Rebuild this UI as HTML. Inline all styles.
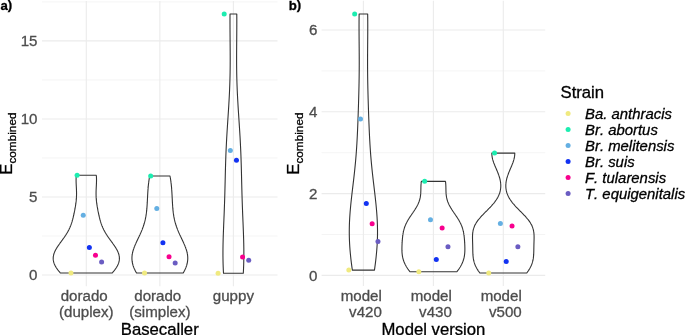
<!DOCTYPE html>
<html><head><meta charset="utf-8"><style>
html,body{margin:0;padding:0;background:#fff;}
svg{display:block;}
text{font-family:"Liberation Sans",sans-serif;font-kerning:none;}
svg{will-change:transform;}
</style></head><body>
<svg width="685" height="335" viewBox="0 0 685 335">
<rect width="685" height="335" fill="#fff"/>
<line x1="42.0" x2="277.5" y1="235.98" y2="235.98" stroke="#EBEBEB" stroke-width="0.55"/>
<line x1="42.0" x2="277.5" y1="157.95" y2="157.95" stroke="#EBEBEB" stroke-width="0.55"/>
<line x1="42.0" x2="277.5" y1="79.91" y2="79.91" stroke="#EBEBEB" stroke-width="0.55"/>
<line x1="42.0" x2="277.5" y1="1.88" y2="1.88" stroke="#EBEBEB" stroke-width="0.55"/>
<line x1="42.0" x2="277.5" y1="275.00" y2="275.00" stroke="#EBEBEB" stroke-width="1.1"/>
<line x1="42.0" x2="277.5" y1="196.97" y2="196.97" stroke="#EBEBEB" stroke-width="1.1"/>
<line x1="42.0" x2="277.5" y1="118.93" y2="118.93" stroke="#EBEBEB" stroke-width="1.1"/>
<line x1="42.0" x2="277.5" y1="40.90" y2="40.90" stroke="#EBEBEB" stroke-width="1.1"/>
<line x1="86.3" x2="86.3" y1="1.09" y2="286.24" stroke="#EBEBEB" stroke-width="1.1"/>
<line x1="159.85" x2="159.85" y1="1.09" y2="286.24" stroke="#EBEBEB" stroke-width="1.1"/>
<line x1="233.4" x2="233.4" y1="1.09" y2="286.24" stroke="#EBEBEB" stroke-width="1.1"/>
<path d="M60.38,272.97 L60.22,272.78 L60.05,272.59 L59.88,272.40 L59.72,272.21 L59.56,272.02 L59.40,271.82 L59.24,271.63 L59.08,271.44 L58.92,271.25 L58.77,271.06 L58.61,270.87 L58.46,270.68 L58.31,270.49 L58.16,270.29 L58.01,270.10 L57.87,269.91 L57.72,269.72 L57.58,269.53 L57.44,269.34 L57.30,269.15 L57.16,268.96 L57.03,268.76 L56.90,268.57 L56.76,268.38 L56.64,268.19 L56.51,268.00 L56.38,267.81 L56.26,267.62 L56.14,267.43 L56.02,267.24 L55.90,267.04 L55.79,266.85 L55.68,266.66 L55.57,266.47 L55.46,266.28 L55.35,266.09 L55.25,265.90 L55.15,265.71 L55.05,265.51 L54.96,265.32 L54.86,265.13 L54.77,264.94 L54.68,264.75 L54.60,264.56 L54.51,264.37 L54.43,264.18 L54.35,263.99 L54.28,263.79 L54.20,263.60 L54.13,263.41 L54.06,263.22 L54.00,263.03 L53.93,262.84 L53.87,262.65 L53.81,262.46 L53.76,262.26 L53.70,262.07 L53.65,261.88 L53.61,261.69 L53.56,261.50 L53.52,261.31 L53.48,261.12 L53.44,260.93 L53.41,260.73 L53.37,260.54 L53.35,260.35 L53.32,260.16 L53.29,259.97 L53.27,259.78 L53.26,259.59 L53.24,259.40 L53.23,259.21 L53.22,259.01 L53.21,258.82 L53.20,258.63 L53.20,258.44 L53.20,258.25 L53.21,258.06 L53.21,257.87 L53.22,257.68 L53.23,257.48 L53.25,257.29 L53.26,257.10 L53.28,256.91 L53.30,256.72 L53.33,256.53 L53.35,256.34 L53.38,256.15 L53.42,255.95 L53.45,255.76 L53.49,255.57 L53.53,255.38 L53.57,255.19 L53.61,255.00 L53.66,254.81 L53.71,254.62 L53.76,254.43 L53.81,254.23 L53.87,254.04 L53.93,253.85 L53.99,253.66 L54.05,253.47 L54.12,253.28 L54.19,253.09 L54.26,252.90 L54.33,252.70 L54.41,252.51 L54.48,252.32 L54.56,252.13 L54.64,251.94 L54.72,251.75 L54.81,251.56 L54.90,251.37 L54.98,251.18 L55.08,250.98 L55.17,250.79 L55.26,250.60 L55.36,250.41 L55.46,250.22 L55.56,250.03 L55.66,249.84 L55.76,249.65 L55.87,249.45 L55.97,249.26 L56.08,249.07 L56.19,248.88 L56.30,248.69 L56.42,248.50 L56.53,248.31 L56.64,248.12 L56.76,247.92 L56.88,247.73 L57.00,247.54 L57.12,247.35 L57.24,247.16 L57.37,246.97 L57.49,246.78 L57.61,246.59 L57.74,246.40 L57.87,246.20 L58.00,246.01 L58.13,245.82 L58.26,245.63 L58.39,245.44 L58.52,245.25 L58.65,245.06 L58.79,244.87 L58.92,244.67 L59.05,244.48 L59.19,244.29 L59.33,244.10 L59.46,243.91 L59.60,243.72 L59.74,243.53 L59.87,243.34 L60.01,243.14 L60.15,242.95 L60.29,242.76 L60.43,242.57 L60.57,242.38 L60.71,242.19 L60.85,242.00 L60.99,241.81 L61.13,241.62 L61.27,241.42 L61.41,241.23 L61.55,241.04 L61.69,240.85 L61.83,240.66 L61.97,240.47 L62.11,240.28 L62.25,240.09 L62.39,239.89 L62.53,239.70 L62.67,239.51 L62.80,239.32 L62.94,239.13 L63.08,238.94 L63.22,238.75 L63.35,238.56 L63.49,238.37 L63.63,238.17 L63.76,237.98 L63.90,237.79 L64.03,237.60 L64.17,237.41 L64.30,237.22 L64.43,237.03 L64.56,236.84 L64.69,236.64 L64.82,236.45 L64.95,236.26 L65.08,236.07 L65.21,235.88 L65.34,235.69 L65.47,235.50 L65.59,235.31 L65.72,235.11 L65.84,234.92 L65.96,234.73 L66.09,234.54 L66.21,234.35 L66.33,234.16 L66.45,233.97 L66.57,233.78 L66.68,233.59 L66.80,233.39 L66.92,233.20 L67.03,233.01 L67.15,232.82 L67.26,232.63 L67.37,232.44 L67.48,232.25 L67.59,232.06 L67.70,231.86 L67.81,231.67 L67.91,231.48 L68.02,231.29 L68.12,231.10 L68.23,230.91 L68.33,230.72 L68.43,230.53 L68.53,230.33 L68.63,230.14 L68.73,229.95 L68.82,229.76 L68.92,229.57 L69.01,229.38 L69.11,229.19 L69.20,229.00 L69.29,228.81 L69.38,228.61 L69.47,228.42 L69.56,228.23 L69.65,228.04 L69.73,227.85 L69.82,227.66 L69.90,227.47 L69.99,227.28 L70.07,227.08 L70.15,226.89 L70.23,226.70 L70.31,226.51 L70.39,226.32 L70.46,226.13 L70.54,225.94 L70.62,225.75 L70.69,225.56 L70.76,225.36 L70.84,225.17 L70.91,224.98 L70.98,224.79 L71.05,224.60 L71.12,224.41 L71.19,224.22 L71.25,224.03 L71.32,223.83 L71.39,223.64 L71.45,223.45 L71.52,223.26 L71.58,223.07 L71.64,222.88 L71.70,222.69 L71.77,222.50 L71.83,222.30 L71.89,222.11 L71.95,221.92 L72.00,221.73 L72.06,221.54 L72.12,221.35 L72.18,221.16 L72.23,220.97 L72.29,220.78 L72.34,220.58 L72.40,220.39 L72.45,220.20 L72.50,220.01 L72.55,219.82 L72.61,219.63 L72.66,219.44 L72.71,219.25 L72.76,219.05 L72.81,218.86 L72.86,218.67 L72.91,218.48 L72.96,218.29 L73.00,218.10 L73.05,217.91 L73.10,217.72 L73.15,217.53 L73.19,217.33 L73.24,217.14 L73.28,216.95 L73.33,216.76 L73.37,216.57 L73.42,216.38 L73.46,216.19 L73.51,216.00 L73.55,215.80 L73.60,215.61 L73.64,215.42 L73.68,215.23 L73.72,215.04 L73.77,214.85 L73.81,214.66 L73.85,214.47 L73.89,214.27 L73.93,214.08 L73.97,213.89 L74.01,213.70 L74.06,213.51 L74.10,213.32 L74.14,213.13 L74.18,212.94 L74.22,212.75 L74.25,212.55 L74.29,212.36 L74.33,212.17 L74.37,211.98 L74.41,211.79 L74.45,211.60 L74.49,211.41 L74.52,211.22 L74.56,211.02 L74.60,210.83 L74.64,210.64 L74.67,210.45 L74.71,210.26 L74.75,210.07 L74.78,209.88 L74.82,209.69 L74.86,209.49 L74.89,209.30 L74.93,209.11 L74.96,208.92 L75.00,208.73 L75.03,208.54 L75.07,208.35 L75.10,208.16 L75.14,207.97 L75.17,207.77 L75.20,207.58 L75.24,207.39 L75.27,207.20 L75.30,207.01 L75.33,206.82 L75.37,206.63 L75.40,206.44 L75.43,206.24 L75.46,206.05 L75.49,205.86 L75.52,205.67 L75.55,205.48 L75.58,205.29 L75.61,205.10 L75.64,204.91 L75.67,204.72 L75.70,204.52 L75.73,204.33 L75.75,204.14 L75.78,203.95 L75.81,203.76 L75.83,203.57 L75.86,203.38 L75.89,203.19 L75.91,202.99 L75.94,202.80 L75.96,202.61 L75.98,202.42 L76.01,202.23 L76.03,202.04 L76.05,201.85 L76.08,201.66 L76.10,201.46 L76.12,201.27 L76.14,201.08 L76.16,200.89 L76.18,200.70 L76.20,200.51 L76.22,200.32 L76.24,200.13 L76.25,199.94 L76.27,199.74 L76.29,199.55 L76.30,199.36 L76.32,199.17 L76.33,198.98 L76.35,198.79 L76.36,198.60 L76.38,198.41 L76.39,198.21 L76.40,198.02 L76.41,197.83 L76.43,197.64 L76.44,197.45 L76.45,197.26 L76.46,197.07 L76.47,196.88 L76.47,196.68 L76.48,196.49 L76.49,196.30 L76.50,196.11 L76.50,195.92 L76.51,195.73 L76.51,195.54 L76.52,195.35 L76.52,195.16 L76.53,194.96 L76.53,194.77 L76.53,194.58 L76.54,194.39 L76.54,194.20 L76.54,194.01 L76.54,193.82 L76.54,193.63 L76.54,193.43 L76.54,193.24 L76.54,193.05 L76.54,192.86 L76.54,192.67 L76.53,192.48 L76.53,192.29 L76.53,192.10 L76.53,191.91 L76.52,191.71 L76.52,191.52 L76.51,191.33 L76.51,191.14 L76.50,190.95 L76.50,190.76 L76.49,190.57 L76.48,190.38 L76.48,190.18 L76.47,189.99 L76.46,189.80 L76.45,189.61 L76.45,189.42 L76.44,189.23 L76.43,189.04 L76.42,188.85 L76.41,188.65 L76.40,188.46 L76.40,188.27 L76.39,188.08 L76.38,187.89 L76.37,187.70 L76.36,187.51 L76.35,187.32 L76.34,187.13 L76.33,186.93 L76.32,186.74 L76.31,186.55 L76.30,186.36 L76.29,186.17 L76.28,185.98 L76.27,185.79 L76.26,185.60 L76.25,185.40 L76.24,185.21 L76.23,185.02 L76.22,184.83 L76.21,184.64 L76.21,184.45 L76.20,184.26 L76.19,184.07 L76.18,183.87 L76.17,183.68 L76.16,183.49 L76.16,183.30 L76.15,183.11 L76.14,182.92 L76.14,182.73 L76.13,182.54 L76.12,182.35 L76.12,182.15 L76.11,181.96 L76.11,181.77 L76.10,181.58 L76.10,181.39 L76.10,181.20 L76.09,181.01 L76.09,180.82 L76.09,180.62 L76.09,180.43 L76.09,180.24 L76.08,180.05 L76.08,179.86 L76.09,179.67 L76.09,179.48 L76.09,179.29 L76.09,179.10 L76.09,178.90 L76.10,178.71 L76.10,178.52 L76.11,178.33 L76.11,178.14 L76.12,177.95 L76.12,177.76 L76.13,177.57 L76.14,177.37 L76.15,177.18 L76.16,176.99 L76.17,176.80 L76.18,176.61 L76.19,176.42 L76.20,176.23 L76.22,176.04 L76.23,175.84 L76.25,175.65 L76.26,175.46 L76.28,175.27 L96.32,175.27 L96.34,175.46 L96.35,175.65 L96.37,175.84 L96.38,176.04 L96.40,176.23 L96.41,176.42 L96.42,176.61 L96.43,176.80 L96.44,176.99 L96.45,177.18 L96.46,177.37 L96.47,177.57 L96.48,177.76 L96.48,177.95 L96.49,178.14 L96.49,178.33 L96.50,178.52 L96.50,178.71 L96.51,178.90 L96.51,179.10 L96.51,179.29 L96.51,179.48 L96.51,179.67 L96.52,179.86 L96.52,180.05 L96.51,180.24 L96.51,180.43 L96.51,180.62 L96.51,180.82 L96.51,181.01 L96.50,181.20 L96.50,181.39 L96.50,181.58 L96.49,181.77 L96.49,181.96 L96.48,182.15 L96.48,182.35 L96.47,182.54 L96.46,182.73 L96.46,182.92 L96.45,183.11 L96.44,183.30 L96.44,183.49 L96.43,183.68 L96.42,183.87 L96.41,184.07 L96.40,184.26 L96.39,184.45 L96.39,184.64 L96.38,184.83 L96.37,185.02 L96.36,185.21 L96.35,185.40 L96.34,185.60 L96.33,185.79 L96.32,185.98 L96.31,186.17 L96.30,186.36 L96.29,186.55 L96.28,186.74 L96.27,186.93 L96.26,187.13 L96.25,187.32 L96.24,187.51 L96.23,187.70 L96.22,187.89 L96.21,188.08 L96.20,188.27 L96.20,188.46 L96.19,188.65 L96.18,188.85 L96.17,189.04 L96.16,189.23 L96.15,189.42 L96.15,189.61 L96.14,189.80 L96.13,189.99 L96.12,190.18 L96.12,190.38 L96.11,190.57 L96.10,190.76 L96.10,190.95 L96.09,191.14 L96.09,191.33 L96.08,191.52 L96.08,191.71 L96.07,191.91 L96.07,192.10 L96.07,192.29 L96.07,192.48 L96.06,192.67 L96.06,192.86 L96.06,193.05 L96.06,193.24 L96.06,193.43 L96.06,193.63 L96.06,193.82 L96.06,194.01 L96.06,194.20 L96.06,194.39 L96.07,194.58 L96.07,194.77 L96.07,194.96 L96.08,195.16 L96.08,195.35 L96.09,195.54 L96.09,195.73 L96.10,195.92 L96.10,196.11 L96.11,196.30 L96.12,196.49 L96.13,196.68 L96.13,196.88 L96.14,197.07 L96.15,197.26 L96.16,197.45 L96.17,197.64 L96.19,197.83 L96.20,198.02 L96.21,198.21 L96.22,198.41 L96.24,198.60 L96.25,198.79 L96.27,198.98 L96.28,199.17 L96.30,199.36 L96.31,199.55 L96.33,199.74 L96.35,199.94 L96.36,200.13 L96.38,200.32 L96.40,200.51 L96.42,200.70 L96.44,200.89 L96.46,201.08 L96.48,201.27 L96.50,201.46 L96.52,201.66 L96.55,201.85 L96.57,202.04 L96.59,202.23 L96.62,202.42 L96.64,202.61 L96.66,202.80 L96.69,202.99 L96.71,203.19 L96.74,203.38 L96.77,203.57 L96.79,203.76 L96.82,203.95 L96.85,204.14 L96.87,204.33 L96.90,204.52 L96.93,204.72 L96.96,204.91 L96.99,205.10 L97.02,205.29 L97.05,205.48 L97.08,205.67 L97.11,205.86 L97.14,206.05 L97.17,206.24 L97.20,206.44 L97.23,206.63 L97.27,206.82 L97.30,207.01 L97.33,207.20 L97.36,207.39 L97.40,207.58 L97.43,207.77 L97.46,207.97 L97.50,208.16 L97.53,208.35 L97.57,208.54 L97.60,208.73 L97.64,208.92 L97.67,209.11 L97.71,209.30 L97.74,209.49 L97.78,209.69 L97.82,209.88 L97.85,210.07 L97.89,210.26 L97.93,210.45 L97.96,210.64 L98.00,210.83 L98.04,211.02 L98.08,211.22 L98.11,211.41 L98.15,211.60 L98.19,211.79 L98.23,211.98 L98.27,212.17 L98.31,212.36 L98.35,212.55 L98.38,212.75 L98.42,212.94 L98.46,213.13 L98.50,213.32 L98.54,213.51 L98.59,213.70 L98.63,213.89 L98.67,214.08 L98.71,214.27 L98.75,214.47 L98.79,214.66 L98.83,214.85 L98.88,215.04 L98.92,215.23 L98.96,215.42 L99.00,215.61 L99.05,215.80 L99.09,216.00 L99.14,216.19 L99.18,216.38 L99.23,216.57 L99.27,216.76 L99.32,216.95 L99.36,217.14 L99.41,217.33 L99.45,217.53 L99.50,217.72 L99.55,217.91 L99.60,218.10 L99.64,218.29 L99.69,218.48 L99.74,218.67 L99.79,218.86 L99.84,219.05 L99.89,219.25 L99.94,219.44 L99.99,219.63 L100.05,219.82 L100.10,220.01 L100.15,220.20 L100.20,220.39 L100.26,220.58 L100.31,220.78 L100.37,220.97 L100.42,221.16 L100.48,221.35 L100.54,221.54 L100.60,221.73 L100.65,221.92 L100.71,222.11 L100.77,222.30 L100.83,222.50 L100.90,222.69 L100.96,222.88 L101.02,223.07 L101.08,223.26 L101.15,223.45 L101.21,223.64 L101.28,223.83 L101.35,224.03 L101.41,224.22 L101.48,224.41 L101.55,224.60 L101.62,224.79 L101.69,224.98 L101.76,225.17 L101.84,225.36 L101.91,225.56 L101.98,225.75 L102.06,225.94 L102.14,226.13 L102.21,226.32 L102.29,226.51 L102.37,226.70 L102.45,226.89 L102.53,227.08 L102.61,227.28 L102.70,227.47 L102.78,227.66 L102.87,227.85 L102.95,228.04 L103.04,228.23 L103.13,228.42 L103.22,228.61 L103.31,228.81 L103.40,229.00 L103.49,229.19 L103.59,229.38 L103.68,229.57 L103.78,229.76 L103.87,229.95 L103.97,230.14 L104.07,230.33 L104.17,230.53 L104.27,230.72 L104.37,230.91 L104.48,231.10 L104.58,231.29 L104.69,231.48 L104.79,231.67 L104.90,231.86 L105.01,232.06 L105.12,232.25 L105.23,232.44 L105.34,232.63 L105.45,232.82 L105.57,233.01 L105.68,233.20 L105.80,233.39 L105.92,233.59 L106.03,233.78 L106.15,233.97 L106.27,234.16 L106.39,234.35 L106.51,234.54 L106.64,234.73 L106.76,234.92 L106.88,235.11 L107.01,235.31 L107.13,235.50 L107.26,235.69 L107.39,235.88 L107.52,236.07 L107.65,236.26 L107.78,236.45 L107.91,236.64 L108.04,236.84 L108.17,237.03 L108.30,237.22 L108.43,237.41 L108.57,237.60 L108.70,237.79 L108.84,237.98 L108.97,238.17 L109.11,238.37 L109.25,238.56 L109.38,238.75 L109.52,238.94 L109.66,239.13 L109.80,239.32 L109.93,239.51 L110.07,239.70 L110.21,239.89 L110.35,240.09 L110.49,240.28 L110.63,240.47 L110.77,240.66 L110.91,240.85 L111.05,241.04 L111.19,241.23 L111.33,241.42 L111.47,241.62 L111.61,241.81 L111.75,242.00 L111.89,242.19 L112.03,242.38 L112.17,242.57 L112.31,242.76 L112.45,242.95 L112.59,243.14 L112.73,243.34 L112.86,243.53 L113.00,243.72 L113.14,243.91 L113.27,244.10 L113.41,244.29 L113.55,244.48 L113.68,244.67 L113.81,244.87 L113.95,245.06 L114.08,245.25 L114.21,245.44 L114.34,245.63 L114.47,245.82 L114.60,246.01 L114.73,246.20 L114.86,246.40 L114.99,246.59 L115.11,246.78 L115.23,246.97 L115.36,247.16 L115.48,247.35 L115.60,247.54 L115.72,247.73 L115.84,247.92 L115.96,248.12 L116.07,248.31 L116.18,248.50 L116.30,248.69 L116.41,248.88 L116.52,249.07 L116.63,249.26 L116.73,249.45 L116.84,249.65 L116.94,249.84 L117.04,250.03 L117.14,250.22 L117.24,250.41 L117.34,250.60 L117.43,250.79 L117.52,250.98 L117.62,251.18 L117.70,251.37 L117.79,251.56 L117.88,251.75 L117.96,251.94 L118.04,252.13 L118.12,252.32 L118.19,252.51 L118.27,252.70 L118.34,252.90 L118.41,253.09 L118.48,253.28 L118.55,253.47 L118.61,253.66 L118.67,253.85 L118.73,254.04 L118.79,254.23 L118.84,254.43 L118.89,254.62 L118.94,254.81 L118.99,255.00 L119.03,255.19 L119.07,255.38 L119.11,255.57 L119.15,255.76 L119.18,255.95 L119.22,256.15 L119.25,256.34 L119.27,256.53 L119.30,256.72 L119.32,256.91 L119.34,257.10 L119.35,257.29 L119.37,257.48 L119.38,257.68 L119.39,257.87 L119.39,258.06 L119.40,258.25 L119.40,258.44 L119.40,258.63 L119.39,258.82 L119.38,259.01 L119.37,259.21 L119.36,259.40 L119.34,259.59 L119.33,259.78 L119.31,259.97 L119.28,260.16 L119.25,260.35 L119.23,260.54 L119.19,260.73 L119.16,260.93 L119.12,261.12 L119.08,261.31 L119.04,261.50 L118.99,261.69 L118.95,261.88 L118.90,262.07 L118.84,262.26 L118.79,262.46 L118.73,262.65 L118.67,262.84 L118.60,263.03 L118.54,263.22 L118.47,263.41 L118.40,263.60 L118.32,263.79 L118.25,263.99 L118.17,264.18 L118.09,264.37 L118.00,264.56 L117.92,264.75 L117.83,264.94 L117.74,265.13 L117.64,265.32 L117.55,265.51 L117.45,265.71 L117.35,265.90 L117.25,266.09 L117.14,266.28 L117.03,266.47 L116.92,266.66 L116.81,266.85 L116.70,267.04 L116.58,267.24 L116.46,267.43 L116.34,267.62 L116.22,267.81 L116.09,268.00 L115.96,268.19 L115.84,268.38 L115.70,268.57 L115.57,268.76 L115.44,268.96 L115.30,269.15 L115.16,269.34 L115.02,269.53 L114.88,269.72 L114.73,269.91 L114.59,270.10 L114.44,270.29 L114.29,270.49 L114.14,270.68 L113.99,270.87 L113.83,271.06 L113.68,271.25 L113.52,271.44 L113.36,271.63 L113.20,271.82 L113.04,272.02 L112.88,272.21 L112.72,272.40 L112.55,272.59 L112.38,272.78 L112.22,272.97 Z" fill="none" stroke="#333333" stroke-width="1.1" stroke-linejoin="round"/>
<path d="M136.49,272.97 L136.38,272.78 L136.27,272.59 L136.16,272.40 L136.06,272.21 L135.95,272.02 L135.85,271.83 L135.74,271.64 L135.64,271.45 L135.54,271.26 L135.44,271.07 L135.34,270.88 L135.25,270.70 L135.15,270.51 L135.06,270.32 L134.96,270.13 L134.87,269.94 L134.78,269.75 L134.69,269.56 L134.60,269.37 L134.51,269.18 L134.43,268.99 L134.34,268.80 L134.26,268.61 L134.18,268.42 L134.10,268.23 L134.02,268.04 L133.94,267.85 L133.86,267.66 L133.79,267.47 L133.71,267.28 L133.64,267.09 L133.57,266.90 L133.50,266.71 L133.43,266.52 L133.36,266.33 L133.30,266.14 L133.24,265.95 L133.17,265.76 L133.11,265.57 L133.05,265.38 L133.00,265.19 L132.94,265.01 L132.88,264.82 L132.83,264.63 L132.78,264.44 L132.73,264.25 L132.68,264.06 L132.63,263.87 L132.59,263.68 L132.54,263.49 L132.50,263.30 L132.46,263.11 L132.42,262.92 L132.38,262.73 L132.34,262.54 L132.31,262.35 L132.28,262.16 L132.24,261.97 L132.21,261.78 L132.19,261.59 L132.16,261.40 L132.13,261.21 L132.11,261.02 L132.09,260.83 L132.07,260.64 L132.05,260.45 L132.03,260.26 L132.01,260.07 L132.00,259.88 L131.99,259.69 L131.98,259.50 L131.97,259.32 L131.96,259.13 L131.95,258.94 L131.95,258.75 L131.94,258.56 L131.94,258.37 L131.94,258.18 L131.94,257.99 L131.95,257.80 L131.95,257.61 L131.96,257.42 L131.96,257.23 L131.97,257.04 L131.98,256.85 L131.99,256.66 L132.01,256.47 L132.02,256.28 L132.04,256.09 L132.06,255.90 L132.08,255.71 L132.10,255.52 L132.12,255.33 L132.14,255.14 L132.17,254.95 L132.19,254.76 L132.22,254.57 L132.25,254.38 L132.28,254.19 L132.31,254.00 L132.35,253.81 L132.38,253.63 L132.42,253.44 L132.45,253.25 L132.49,253.06 L132.53,252.87 L132.57,252.68 L132.62,252.49 L132.66,252.30 L132.71,252.11 L132.75,251.92 L132.80,251.73 L132.85,251.54 L132.90,251.35 L132.95,251.16 L133.00,250.97 L133.05,250.78 L133.11,250.59 L133.16,250.40 L133.22,250.21 L133.28,250.02 L133.34,249.83 L133.40,249.64 L133.46,249.45 L133.52,249.26 L133.58,249.07 L133.65,248.88 L133.71,248.69 L133.78,248.50 L133.84,248.31 L133.91,248.12 L133.98,247.94 L134.05,247.75 L134.12,247.56 L134.19,247.37 L134.26,247.18 L134.33,246.99 L134.41,246.80 L134.48,246.61 L134.56,246.42 L134.63,246.23 L134.71,246.04 L134.79,245.85 L134.86,245.66 L134.94,245.47 L135.02,245.28 L135.10,245.09 L135.18,244.90 L135.26,244.71 L135.34,244.52 L135.43,244.33 L135.51,244.14 L135.59,243.95 L135.68,243.76 L135.76,243.57 L135.84,243.38 L135.93,243.19 L136.01,243.00 L136.10,242.81 L136.19,242.62 L136.27,242.43 L136.36,242.25 L136.45,242.06 L136.54,241.87 L136.62,241.68 L136.71,241.49 L136.80,241.30 L136.89,241.11 L136.98,240.92 L137.07,240.73 L137.16,240.54 L137.25,240.35 L137.34,240.16 L137.43,239.97 L137.52,239.78 L137.61,239.59 L137.70,239.40 L137.79,239.21 L137.88,239.02 L137.97,238.83 L138.06,238.64 L138.15,238.45 L138.24,238.26 L138.33,238.07 L138.42,237.88 L138.51,237.69 L138.60,237.50 L138.69,237.31 L138.78,237.12 L138.87,236.93 L138.96,236.74 L139.05,236.56 L139.14,236.37 L139.23,236.18 L139.31,235.99 L139.40,235.80 L139.49,235.61 L139.58,235.42 L139.67,235.23 L139.76,235.04 L139.84,234.85 L139.93,234.66 L140.02,234.47 L140.10,234.28 L140.19,234.09 L140.28,233.90 L140.36,233.71 L140.45,233.52 L140.53,233.33 L140.62,233.14 L140.70,232.95 L140.79,232.76 L140.87,232.57 L140.95,232.38 L141.03,232.19 L141.12,232.00 L141.20,231.81 L141.28,231.62 L141.36,231.43 L141.44,231.24 L141.52,231.05 L141.60,230.87 L141.68,230.68 L141.75,230.49 L141.83,230.30 L141.91,230.11 L141.99,229.92 L142.06,229.73 L142.14,229.54 L142.21,229.35 L142.29,229.16 L142.36,228.97 L142.43,228.78 L142.51,228.59 L142.58,228.40 L142.65,228.21 L142.72,228.02 L142.79,227.83 L142.86,227.64 L142.93,227.45 L143.00,227.26 L143.07,227.07 L143.13,226.88 L143.20,226.69 L143.27,226.50 L143.33,226.31 L143.40,226.12 L143.46,225.93 L143.52,225.74 L143.59,225.55 L143.65,225.36 L143.71,225.18 L143.77,224.99 L143.83,224.80 L143.89,224.61 L143.95,224.42 L144.01,224.23 L144.07,224.04 L144.12,223.85 L144.18,223.66 L144.23,223.47 L144.29,223.28 L144.34,223.09 L144.40,222.90 L144.45,222.71 L144.50,222.52 L144.56,222.33 L144.61,222.14 L144.66,221.95 L144.71,221.76 L144.76,221.57 L144.81,221.38 L144.85,221.19 L144.90,221.00 L144.95,220.81 L144.99,220.62 L145.04,220.43 L145.08,220.24 L145.13,220.05 L145.17,219.86 L145.22,219.67 L145.26,219.49 L145.30,219.30 L145.34,219.11 L145.38,218.92 L145.42,218.73 L145.46,218.54 L145.50,218.35 L145.54,218.16 L145.58,217.97 L145.61,217.78 L145.65,217.59 L145.69,217.40 L145.72,217.21 L145.76,217.02 L145.79,216.83 L145.83,216.64 L145.86,216.45 L145.89,216.26 L145.93,216.07 L145.96,215.88 L145.99,215.69 L146.02,215.50 L146.05,215.31 L146.08,215.12 L146.11,214.93 L146.14,214.74 L146.17,214.55 L146.19,214.36 L146.22,214.17 L146.25,213.98 L146.28,213.80 L146.30,213.61 L146.33,213.42 L146.35,213.23 L146.38,213.04 L146.40,212.85 L146.43,212.66 L146.45,212.47 L146.47,212.28 L146.50,212.09 L146.52,211.90 L146.54,211.71 L146.56,211.52 L146.58,211.33 L146.60,211.14 L146.63,210.95 L146.65,210.76 L146.67,210.57 L146.69,210.38 L146.70,210.19 L146.72,210.00 L146.74,209.81 L146.76,209.62 L146.78,209.43 L146.80,209.24 L146.81,209.05 L146.83,208.86 L146.85,208.67 L146.86,208.48 L146.88,208.29 L146.89,208.11 L146.91,207.92 L146.93,207.73 L146.94,207.54 L146.96,207.35 L146.97,207.16 L146.98,206.97 L147.00,206.78 L147.01,206.59 L147.03,206.40 L147.04,206.21 L147.05,206.02 L147.07,205.83 L147.08,205.64 L147.09,205.45 L147.11,205.26 L147.12,205.07 L147.13,204.88 L147.14,204.69 L147.15,204.50 L147.17,204.31 L147.18,204.12 L147.19,203.93 L147.20,203.74 L147.21,203.55 L147.22,203.36 L147.23,203.17 L147.24,202.98 L147.25,202.79 L147.26,202.60 L147.28,202.42 L147.29,202.23 L147.30,202.04 L147.31,201.85 L147.32,201.66 L147.33,201.47 L147.34,201.28 L147.35,201.09 L147.36,200.90 L147.37,200.71 L147.38,200.52 L147.39,200.33 L147.39,200.14 L147.40,199.95 L147.41,199.76 L147.42,199.57 L147.43,199.38 L147.44,199.19 L147.45,199.00 L147.46,198.81 L147.47,198.62 L147.48,198.43 L147.49,198.24 L147.50,198.05 L147.51,197.86 L147.52,197.67 L147.53,197.48 L147.54,197.29 L147.55,197.10 L147.56,196.91 L147.57,196.73 L147.58,196.54 L147.59,196.35 L147.60,196.16 L147.61,195.97 L147.61,195.78 L147.62,195.59 L147.63,195.40 L147.64,195.21 L147.66,195.02 L147.67,194.83 L147.68,194.64 L147.69,194.45 L147.70,194.26 L147.71,194.07 L147.72,193.88 L147.73,193.69 L147.74,193.50 L147.75,193.31 L147.76,193.12 L147.77,192.93 L147.78,192.74 L147.80,192.55 L147.81,192.36 L147.82,192.17 L147.83,191.98 L147.84,191.79 L147.86,191.60 L147.87,191.41 L147.88,191.22 L147.89,191.04 L147.91,190.85 L147.92,190.66 L147.93,190.47 L147.95,190.28 L147.96,190.09 L147.97,189.90 L147.99,189.71 L148.00,189.52 L148.01,189.33 L148.03,189.14 L148.04,188.95 L148.06,188.76 L148.07,188.57 L148.09,188.38 L148.10,188.19 L148.12,188.00 L148.14,187.81 L148.15,187.62 L148.17,187.43 L148.18,187.24 L148.20,187.05 L148.22,186.86 L148.24,186.67 L148.25,186.48 L148.27,186.29 L148.29,186.10 L148.31,185.91 L148.33,185.72 L148.34,185.53 L148.36,185.35 L148.38,185.16 L148.40,184.97 L148.42,184.78 L148.44,184.59 L148.46,184.40 L148.48,184.21 L148.50,184.02 L148.53,183.83 L148.55,183.64 L148.57,183.45 L148.59,183.26 L148.61,183.07 L148.64,182.88 L148.66,182.69 L148.68,182.50 L148.71,182.31 L148.73,182.12 L148.75,181.93 L148.78,181.74 L148.80,181.55 L148.83,181.36 L148.85,181.17 L148.88,180.98 L148.91,180.79 L148.93,180.60 L148.96,180.41 L148.99,180.22 L149.01,180.03 L149.04,179.84 L149.07,179.66 L149.10,179.47 L149.13,179.28 L149.16,179.09 L149.18,178.90 L149.21,178.71 L149.24,178.52 L149.27,178.33 L149.30,178.14 L149.34,177.95 L149.37,177.76 L149.40,177.57 L149.43,177.38 L149.46,177.19 L149.50,177.00 L149.53,176.81 L149.56,176.62 L149.60,176.43 L149.63,176.24 L149.66,176.05 L170.04,176.05 L170.07,176.24 L170.10,176.43 L170.14,176.62 L170.17,176.81 L170.20,177.00 L170.24,177.19 L170.27,177.38 L170.30,177.57 L170.33,177.76 L170.36,177.95 L170.40,178.14 L170.43,178.33 L170.46,178.52 L170.49,178.71 L170.52,178.90 L170.54,179.09 L170.57,179.28 L170.60,179.47 L170.63,179.66 L170.66,179.84 L170.69,180.03 L170.71,180.22 L170.74,180.41 L170.77,180.60 L170.79,180.79 L170.82,180.98 L170.85,181.17 L170.87,181.36 L170.90,181.55 L170.92,181.74 L170.95,181.93 L170.97,182.12 L170.99,182.31 L171.02,182.50 L171.04,182.69 L171.06,182.88 L171.09,183.07 L171.11,183.26 L171.13,183.45 L171.15,183.64 L171.17,183.83 L171.20,184.02 L171.22,184.21 L171.24,184.40 L171.26,184.59 L171.28,184.78 L171.30,184.97 L171.32,185.16 L171.34,185.35 L171.36,185.53 L171.37,185.72 L171.39,185.91 L171.41,186.10 L171.43,186.29 L171.45,186.48 L171.46,186.67 L171.48,186.86 L171.50,187.05 L171.52,187.24 L171.53,187.43 L171.55,187.62 L171.56,187.81 L171.58,188.00 L171.60,188.19 L171.61,188.38 L171.63,188.57 L171.64,188.76 L171.66,188.95 L171.67,189.14 L171.69,189.33 L171.70,189.52 L171.71,189.71 L171.73,189.90 L171.74,190.09 L171.75,190.28 L171.77,190.47 L171.78,190.66 L171.79,190.85 L171.81,191.04 L171.82,191.22 L171.83,191.41 L171.84,191.60 L171.86,191.79 L171.87,191.98 L171.88,192.17 L171.89,192.36 L171.90,192.55 L171.92,192.74 L171.93,192.93 L171.94,193.12 L171.95,193.31 L171.96,193.50 L171.97,193.69 L171.98,193.88 L171.99,194.07 L172.00,194.26 L172.01,194.45 L172.02,194.64 L172.03,194.83 L172.04,195.02 L172.06,195.21 L172.07,195.40 L172.08,195.59 L172.09,195.78 L172.09,195.97 L172.10,196.16 L172.11,196.35 L172.12,196.54 L172.13,196.73 L172.14,196.91 L172.15,197.10 L172.16,197.29 L172.17,197.48 L172.18,197.67 L172.19,197.86 L172.20,198.05 L172.21,198.24 L172.22,198.43 L172.23,198.62 L172.24,198.81 L172.25,199.00 L172.26,199.19 L172.27,199.38 L172.28,199.57 L172.29,199.76 L172.30,199.95 L172.31,200.14 L172.31,200.33 L172.32,200.52 L172.33,200.71 L172.34,200.90 L172.35,201.09 L172.36,201.28 L172.37,201.47 L172.38,201.66 L172.39,201.85 L172.40,202.04 L172.41,202.23 L172.42,202.42 L172.44,202.60 L172.45,202.79 L172.46,202.98 L172.47,203.17 L172.48,203.36 L172.49,203.55 L172.50,203.74 L172.51,203.93 L172.52,204.12 L172.53,204.31 L172.55,204.50 L172.56,204.69 L172.57,204.88 L172.58,205.07 L172.59,205.26 L172.61,205.45 L172.62,205.64 L172.63,205.83 L172.65,206.02 L172.66,206.21 L172.67,206.40 L172.69,206.59 L172.70,206.78 L172.72,206.97 L172.73,207.16 L172.74,207.35 L172.76,207.54 L172.77,207.73 L172.79,207.92 L172.81,208.11 L172.82,208.29 L172.84,208.48 L172.85,208.67 L172.87,208.86 L172.89,209.05 L172.90,209.24 L172.92,209.43 L172.94,209.62 L172.96,209.81 L172.98,210.00 L173.00,210.19 L173.01,210.38 L173.03,210.57 L173.05,210.76 L173.07,210.95 L173.10,211.14 L173.12,211.33 L173.14,211.52 L173.16,211.71 L173.18,211.90 L173.20,212.09 L173.23,212.28 L173.25,212.47 L173.27,212.66 L173.30,212.85 L173.32,213.04 L173.35,213.23 L173.37,213.42 L173.40,213.61 L173.42,213.80 L173.45,213.98 L173.48,214.17 L173.51,214.36 L173.53,214.55 L173.56,214.74 L173.59,214.93 L173.62,215.12 L173.65,215.31 L173.68,215.50 L173.71,215.69 L173.74,215.88 L173.77,216.07 L173.81,216.26 L173.84,216.45 L173.87,216.64 L173.91,216.83 L173.94,217.02 L173.98,217.21 L174.01,217.40 L174.05,217.59 L174.09,217.78 L174.12,217.97 L174.16,218.16 L174.20,218.35 L174.24,218.54 L174.28,218.73 L174.32,218.92 L174.36,219.11 L174.40,219.30 L174.44,219.49 L174.48,219.67 L174.53,219.86 L174.57,220.05 L174.62,220.24 L174.66,220.43 L174.71,220.62 L174.75,220.81 L174.80,221.00 L174.85,221.19 L174.89,221.38 L174.94,221.57 L174.99,221.76 L175.04,221.95 L175.09,222.14 L175.14,222.33 L175.20,222.52 L175.25,222.71 L175.30,222.90 L175.36,223.09 L175.41,223.28 L175.47,223.47 L175.52,223.66 L175.58,223.85 L175.63,224.04 L175.69,224.23 L175.75,224.42 L175.81,224.61 L175.87,224.80 L175.93,224.99 L175.99,225.18 L176.05,225.36 L176.11,225.55 L176.18,225.74 L176.24,225.93 L176.30,226.12 L176.37,226.31 L176.43,226.50 L176.50,226.69 L176.57,226.88 L176.63,227.07 L176.70,227.26 L176.77,227.45 L176.84,227.64 L176.91,227.83 L176.98,228.02 L177.05,228.21 L177.12,228.40 L177.19,228.59 L177.27,228.78 L177.34,228.97 L177.41,229.16 L177.49,229.35 L177.56,229.54 L177.64,229.73 L177.71,229.92 L177.79,230.11 L177.87,230.30 L177.95,230.49 L178.02,230.68 L178.10,230.87 L178.18,231.05 L178.26,231.24 L178.34,231.43 L178.42,231.62 L178.50,231.81 L178.58,232.00 L178.67,232.19 L178.75,232.38 L178.83,232.57 L178.91,232.76 L179.00,232.95 L179.08,233.14 L179.17,233.33 L179.25,233.52 L179.34,233.71 L179.42,233.90 L179.51,234.09 L179.60,234.28 L179.68,234.47 L179.77,234.66 L179.86,234.85 L179.94,235.04 L180.03,235.23 L180.12,235.42 L180.21,235.61 L180.30,235.80 L180.39,235.99 L180.47,236.18 L180.56,236.37 L180.65,236.56 L180.74,236.74 L180.83,236.93 L180.92,237.12 L181.01,237.31 L181.10,237.50 L181.19,237.69 L181.28,237.88 L181.37,238.07 L181.46,238.26 L181.55,238.45 L181.64,238.64 L181.73,238.83 L181.82,239.02 L181.91,239.21 L182.00,239.40 L182.09,239.59 L182.18,239.78 L182.27,239.97 L182.36,240.16 L182.45,240.35 L182.54,240.54 L182.63,240.73 L182.72,240.92 L182.81,241.11 L182.90,241.30 L182.99,241.49 L183.08,241.68 L183.16,241.87 L183.25,242.06 L183.34,242.25 L183.43,242.43 L183.51,242.62 L183.60,242.81 L183.69,243.00 L183.77,243.19 L183.86,243.38 L183.94,243.57 L184.02,243.76 L184.11,243.95 L184.19,244.14 L184.27,244.33 L184.36,244.52 L184.44,244.71 L184.52,244.90 L184.60,245.09 L184.68,245.28 L184.76,245.47 L184.84,245.66 L184.91,245.85 L184.99,246.04 L185.07,246.23 L185.14,246.42 L185.22,246.61 L185.29,246.80 L185.37,246.99 L185.44,247.18 L185.51,247.37 L185.58,247.56 L185.65,247.75 L185.72,247.94 L185.79,248.12 L185.86,248.31 L185.92,248.50 L185.99,248.69 L186.05,248.88 L186.12,249.07 L186.18,249.26 L186.24,249.45 L186.30,249.64 L186.36,249.83 L186.42,250.02 L186.48,250.21 L186.54,250.40 L186.59,250.59 L186.65,250.78 L186.70,250.97 L186.75,251.16 L186.80,251.35 L186.85,251.54 L186.90,251.73 L186.95,251.92 L186.99,252.11 L187.04,252.30 L187.08,252.49 L187.13,252.68 L187.17,252.87 L187.21,253.06 L187.25,253.25 L187.28,253.44 L187.32,253.63 L187.35,253.81 L187.39,254.00 L187.42,254.19 L187.45,254.38 L187.48,254.57 L187.51,254.76 L187.53,254.95 L187.56,255.14 L187.58,255.33 L187.60,255.52 L187.62,255.71 L187.64,255.90 L187.66,256.09 L187.68,256.28 L187.69,256.47 L187.71,256.66 L187.72,256.85 L187.73,257.04 L187.74,257.23 L187.74,257.42 L187.75,257.61 L187.75,257.80 L187.76,257.99 L187.76,258.18 L187.76,258.37 L187.76,258.56 L187.75,258.75 L187.75,258.94 L187.74,259.13 L187.73,259.32 L187.72,259.50 L187.71,259.69 L187.70,259.88 L187.69,260.07 L187.67,260.26 L187.65,260.45 L187.63,260.64 L187.61,260.83 L187.59,261.02 L187.57,261.21 L187.54,261.40 L187.51,261.59 L187.49,261.78 L187.46,261.97 L187.42,262.16 L187.39,262.35 L187.36,262.54 L187.32,262.73 L187.28,262.92 L187.24,263.11 L187.20,263.30 L187.16,263.49 L187.11,263.68 L187.07,263.87 L187.02,264.06 L186.97,264.25 L186.92,264.44 L186.87,264.63 L186.82,264.82 L186.76,265.01 L186.70,265.19 L186.65,265.38 L186.59,265.57 L186.53,265.76 L186.46,265.95 L186.40,266.14 L186.34,266.33 L186.27,266.52 L186.20,266.71 L186.13,266.90 L186.06,267.09 L185.99,267.28 L185.91,267.47 L185.84,267.66 L185.76,267.85 L185.68,268.04 L185.60,268.23 L185.52,268.42 L185.44,268.61 L185.36,268.80 L185.27,268.99 L185.19,269.18 L185.10,269.37 L185.01,269.56 L184.92,269.75 L184.83,269.94 L184.74,270.13 L184.64,270.32 L184.55,270.51 L184.45,270.70 L184.36,270.88 L184.26,271.07 L184.16,271.26 L184.06,271.45 L183.96,271.64 L183.85,271.83 L183.75,272.02 L183.64,272.21 L183.54,272.40 L183.43,272.59 L183.32,272.78 L183.21,272.97 Z" fill="none" stroke="#333333" stroke-width="1.1" stroke-linejoin="round"/>
<path d="M223.50,273.28 L223.47,272.78 L223.44,272.27 L223.41,271.76 L223.39,271.25 L223.36,270.75 L223.34,270.24 L223.31,269.73 L223.29,269.22 L223.27,268.72 L223.25,268.21 L223.23,267.70 L223.21,267.20 L223.19,266.69 L223.17,266.18 L223.15,265.67 L223.14,265.17 L223.12,264.66 L223.10,264.15 L223.09,263.64 L223.08,263.14 L223.06,262.63 L223.05,262.12 L223.04,261.62 L223.03,261.11 L223.02,260.60 L223.01,260.09 L223.00,259.59 L222.99,259.08 L222.98,258.57 L222.98,258.06 L222.97,257.56 L222.97,257.05 L222.96,256.54 L222.96,256.03 L222.95,255.53 L222.95,255.02 L222.95,254.51 L222.95,254.01 L222.95,253.50 L222.95,252.99 L222.95,252.48 L222.95,251.98 L222.95,251.47 L222.96,250.96 L222.96,250.45 L222.96,249.95 L222.97,249.44 L222.97,248.93 L222.98,248.43 L222.98,247.92 L222.99,247.41 L223.00,246.90 L223.01,246.40 L223.01,245.89 L223.02,245.38 L223.03,244.87 L223.04,244.37 L223.05,243.86 L223.06,243.35 L223.08,242.84 L223.09,242.34 L223.10,241.83 L223.11,241.32 L223.12,240.82 L223.14,240.31 L223.15,239.80 L223.17,239.29 L223.18,238.79 L223.20,238.28 L223.21,237.77 L223.23,237.26 L223.24,236.76 L223.26,236.25 L223.28,235.74 L223.29,235.24 L223.31,234.73 L223.33,234.22 L223.35,233.71 L223.36,233.21 L223.38,232.70 L223.40,232.19 L223.42,231.68 L223.44,231.18 L223.46,230.67 L223.48,230.16 L223.50,229.66 L223.52,229.15 L223.54,228.64 L223.56,228.13 L223.58,227.63 L223.60,227.12 L223.62,226.61 L223.64,226.10 L223.66,225.60 L223.68,225.09 L223.70,224.58 L223.72,224.07 L223.74,223.57 L223.76,223.06 L223.78,222.55 L223.80,222.05 L223.83,221.54 L223.85,221.03 L223.87,220.52 L223.89,220.02 L223.91,219.51 L223.93,219.00 L223.95,218.49 L223.97,217.99 L223.99,217.48 L224.01,216.97 L224.03,216.47 L224.06,215.96 L224.08,215.45 L224.10,214.94 L224.12,214.44 L224.14,213.93 L224.16,213.42 L224.18,212.91 L224.20,212.41 L224.22,211.90 L224.24,211.39 L224.26,210.88 L224.28,210.38 L224.30,209.87 L224.32,209.36 L224.33,208.86 L224.35,208.35 L224.37,207.84 L224.39,207.33 L224.41,206.83 L224.43,206.32 L224.45,205.81 L224.46,205.30 L224.48,204.80 L224.50,204.29 L224.52,203.78 L224.53,203.28 L224.55,202.77 L224.57,202.26 L224.58,201.75 L224.60,201.25 L224.62,200.74 L224.63,200.23 L224.65,199.72 L224.67,199.22 L224.68,198.71 L224.70,198.20 L224.71,197.69 L224.73,197.19 L224.74,196.68 L224.76,196.17 L224.77,195.67 L224.79,195.16 L224.80,194.65 L224.82,194.14 L224.83,193.64 L224.85,193.13 L224.86,192.62 L224.87,192.11 L224.89,191.61 L224.90,191.10 L224.91,190.59 L224.93,190.09 L224.94,189.58 L224.95,189.07 L224.97,188.56 L224.98,188.06 L224.99,187.55 L225.00,187.04 L225.02,186.53 L225.03,186.03 L225.04,185.52 L225.05,185.01 L225.07,184.51 L225.08,184.00 L225.09,183.49 L225.10,182.98 L225.12,182.48 L225.13,181.97 L225.14,181.46 L225.15,180.95 L225.16,180.45 L225.18,179.94 L225.19,179.43 L225.20,178.92 L225.21,178.42 L225.22,177.91 L225.24,177.40 L225.25,176.90 L225.26,176.39 L225.27,175.88 L225.28,175.37 L225.30,174.87 L225.31,174.36 L225.32,173.85 L225.33,173.34 L225.35,172.84 L225.36,172.33 L225.37,171.82 L225.39,171.32 L225.40,170.81 L225.41,170.30 L225.42,169.79 L225.44,169.29 L225.45,168.78 L225.47,168.27 L225.48,167.76 L225.49,167.26 L225.51,166.75 L225.52,166.24 L225.54,165.73 L225.55,165.23 L225.57,164.72 L225.58,164.21 L225.60,163.71 L225.61,163.20 L225.63,162.69 L225.64,162.18 L225.66,161.68 L225.68,161.17 L225.69,160.66 L225.71,160.15 L225.73,159.65 L225.74,159.14 L225.76,158.63 L225.78,158.13 L225.80,157.62 L225.82,157.11 L225.83,156.60 L225.85,156.10 L225.87,155.59 L225.89,155.08 L225.91,154.57 L225.93,154.07 L225.95,153.56 L225.97,153.05 L225.99,152.54 L226.01,152.04 L226.03,151.53 L226.06,151.02 L226.08,150.52 L226.10,150.01 L226.12,149.50 L226.14,148.99 L226.17,148.49 L226.19,147.98 L226.21,147.47 L226.24,146.96 L226.26,146.46 L226.29,145.95 L226.31,145.44 L226.34,144.94 L226.36,144.43 L226.39,143.92 L226.41,143.41 L226.44,142.91 L226.46,142.40 L226.49,141.89 L226.52,141.38 L226.54,140.88 L226.57,140.37 L226.60,139.86 L226.63,139.36 L226.66,138.85 L226.68,138.34 L226.71,137.83 L226.74,137.33 L226.77,136.82 L226.80,136.31 L226.83,135.80 L226.86,135.30 L226.89,134.79 L226.92,134.28 L226.95,133.77 L226.98,133.27 L227.01,132.76 L227.04,132.25 L227.07,131.75 L227.10,131.24 L227.13,130.73 L227.17,130.22 L227.20,129.72 L227.23,129.21 L227.26,128.70 L227.29,128.19 L227.33,127.69 L227.36,127.18 L227.39,126.67 L227.42,126.17 L227.46,125.66 L227.49,125.15 L227.52,124.64 L227.56,124.14 L227.59,123.63 L227.62,123.12 L227.66,122.61 L227.69,122.11 L227.72,121.60 L227.76,121.09 L227.79,120.58 L227.82,120.08 L227.86,119.57 L227.89,119.06 L227.92,118.56 L227.96,118.05 L227.99,117.54 L228.03,117.03 L228.06,116.53 L228.09,116.02 L228.13,115.51 L228.16,115.00 L228.19,114.50 L228.23,113.99 L228.26,113.48 L228.29,112.98 L228.32,112.47 L228.36,111.96 L228.39,111.45 L228.42,110.95 L228.45,110.44 L228.49,109.93 L228.52,109.42 L228.55,108.92 L228.58,108.41 L228.62,107.90 L228.65,107.39 L228.68,106.89 L228.71,106.38 L228.74,105.87 L228.77,105.37 L228.80,104.86 L228.83,104.35 L228.86,103.84 L228.89,103.34 L228.92,102.83 L228.95,102.32 L228.98,101.81 L229.01,101.31 L229.04,100.80 L229.07,100.29 L229.09,99.79 L229.12,99.28 L229.15,98.77 L229.18,98.26 L229.20,97.76 L229.23,97.25 L229.26,96.74 L229.28,96.23 L229.31,95.73 L229.33,95.22 L229.36,94.71 L229.38,94.20 L229.41,93.70 L229.43,93.19 L229.46,92.68 L229.48,92.18 L229.50,91.67 L229.52,91.16 L229.55,90.65 L229.57,90.15 L229.59,89.64 L229.61,89.13 L229.63,88.62 L229.65,88.12 L229.67,87.61 L229.69,87.10 L229.71,86.60 L229.73,86.09 L229.75,85.58 L229.77,85.07 L229.79,84.57 L229.80,84.06 L229.82,83.55 L229.84,83.04 L229.85,82.54 L229.87,82.03 L229.88,81.52 L229.90,81.02 L229.91,80.51 L229.93,80.00 L229.94,79.49 L229.96,78.99 L229.97,78.48 L229.98,77.97 L229.99,77.46 L230.01,76.96 L230.02,76.45 L230.03,75.94 L230.04,75.43 L230.05,74.93 L230.06,74.42 L230.07,73.91 L230.08,73.41 L230.09,72.90 L230.10,72.39 L230.10,71.88 L230.11,71.38 L230.12,70.87 L230.13,70.36 L230.13,69.85 L230.14,69.35 L230.15,68.84 L230.15,68.33 L230.16,67.83 L230.16,67.32 L230.17,66.81 L230.17,66.30 L230.17,65.80 L230.18,65.29 L230.18,64.78 L230.19,64.27 L230.19,63.77 L230.19,63.26 L230.19,62.75 L230.19,62.24 L230.20,61.74 L230.20,61.23 L230.20,60.72 L230.20,60.22 L230.20,59.71 L230.20,59.20 L230.20,58.69 L230.20,58.19 L230.20,57.68 L230.20,57.17 L230.20,56.66 L230.20,56.16 L230.20,55.65 L230.19,55.14 L230.19,54.64 L230.19,54.13 L230.19,53.62 L230.19,53.11 L230.18,52.61 L230.18,52.10 L230.18,51.59 L230.18,51.08 L230.17,50.58 L230.17,50.07 L230.17,49.56 L230.16,49.05 L230.16,48.55 L230.16,48.04 L230.15,47.53 L230.15,47.03 L230.15,46.52 L230.14,46.01 L230.14,45.50 L230.13,45.00 L230.13,44.49 L230.13,43.98 L230.12,43.47 L230.12,42.97 L230.11,42.46 L230.11,41.95 L230.10,41.45 L230.10,40.94 L230.10,40.43 L230.09,39.92 L230.09,39.42 L230.08,38.91 L230.08,38.40 L230.07,37.89 L230.07,37.39 L230.07,36.88 L230.06,36.37 L230.06,35.87 L230.05,35.36 L230.05,34.85 L230.05,34.34 L230.04,33.84 L230.04,33.33 L230.04,32.82 L230.03,32.31 L230.03,31.81 L230.03,31.30 L230.02,30.79 L230.02,30.28 L230.02,29.78 L230.01,29.27 L230.01,28.76 L230.01,28.26 L230.01,27.75 L230.00,27.24 L230.00,26.73 L230.00,26.23 L230.00,25.72 L230.00,25.21 L230.00,24.70 L230.00,24.20 L229.99,23.69 L229.99,23.18 L229.99,22.68 L229.99,22.17 L229.99,21.66 L229.99,21.15 L229.99,20.65 L229.99,20.14 L229.99,19.63 L230.00,19.12 L230.00,18.62 L230.00,18.11 L230.00,17.60 L230.00,17.09 L230.00,16.59 L230.01,16.08 L230.01,15.57 L230.01,15.07 L230.02,14.56 L230.02,14.05 L236.78,14.05 L236.78,14.56 L236.79,15.07 L236.79,15.57 L236.79,16.08 L236.80,16.59 L236.80,17.09 L236.80,17.60 L236.80,18.11 L236.80,18.62 L236.80,19.12 L236.81,19.63 L236.81,20.14 L236.81,20.65 L236.81,21.15 L236.81,21.66 L236.81,22.17 L236.81,22.68 L236.81,23.18 L236.81,23.69 L236.80,24.20 L236.80,24.70 L236.80,25.21 L236.80,25.72 L236.80,26.23 L236.80,26.73 L236.80,27.24 L236.79,27.75 L236.79,28.26 L236.79,28.76 L236.79,29.27 L236.78,29.78 L236.78,30.28 L236.78,30.79 L236.77,31.30 L236.77,31.81 L236.77,32.31 L236.76,32.82 L236.76,33.33 L236.76,33.84 L236.75,34.34 L236.75,34.85 L236.75,35.36 L236.74,35.87 L236.74,36.37 L236.73,36.88 L236.73,37.39 L236.73,37.89 L236.72,38.40 L236.72,38.91 L236.71,39.42 L236.71,39.92 L236.70,40.43 L236.70,40.94 L236.70,41.45 L236.69,41.95 L236.69,42.46 L236.68,42.97 L236.68,43.47 L236.67,43.98 L236.67,44.49 L236.67,45.00 L236.66,45.50 L236.66,46.01 L236.65,46.52 L236.65,47.03 L236.65,47.53 L236.64,48.04 L236.64,48.55 L236.64,49.05 L236.63,49.56 L236.63,50.07 L236.63,50.58 L236.62,51.08 L236.62,51.59 L236.62,52.10 L236.62,52.61 L236.61,53.11 L236.61,53.62 L236.61,54.13 L236.61,54.64 L236.61,55.14 L236.60,55.65 L236.60,56.16 L236.60,56.66 L236.60,57.17 L236.60,57.68 L236.60,58.19 L236.60,58.69 L236.60,59.20 L236.60,59.71 L236.60,60.22 L236.60,60.72 L236.60,61.23 L236.60,61.74 L236.61,62.24 L236.61,62.75 L236.61,63.26 L236.61,63.77 L236.61,64.27 L236.62,64.78 L236.62,65.29 L236.63,65.80 L236.63,66.30 L236.63,66.81 L236.64,67.32 L236.64,67.83 L236.65,68.33 L236.65,68.84 L236.66,69.35 L236.67,69.85 L236.67,70.36 L236.68,70.87 L236.69,71.38 L236.70,71.88 L236.70,72.39 L236.71,72.90 L236.72,73.41 L236.73,73.91 L236.74,74.42 L236.75,74.93 L236.76,75.43 L236.77,75.94 L236.78,76.45 L236.79,76.96 L236.81,77.46 L236.82,77.97 L236.83,78.48 L236.84,78.99 L236.86,79.49 L236.87,80.00 L236.89,80.51 L236.90,81.02 L236.92,81.52 L236.93,82.03 L236.95,82.54 L236.96,83.04 L236.98,83.55 L237.00,84.06 L237.01,84.57 L237.03,85.07 L237.05,85.58 L237.07,86.09 L237.09,86.60 L237.11,87.10 L237.13,87.61 L237.15,88.12 L237.17,88.62 L237.19,89.13 L237.21,89.64 L237.23,90.15 L237.25,90.65 L237.28,91.16 L237.30,91.67 L237.32,92.18 L237.34,92.68 L237.37,93.19 L237.39,93.70 L237.42,94.20 L237.44,94.71 L237.47,95.22 L237.49,95.73 L237.52,96.23 L237.54,96.74 L237.57,97.25 L237.60,97.76 L237.62,98.26 L237.65,98.77 L237.68,99.28 L237.71,99.79 L237.73,100.29 L237.76,100.80 L237.79,101.31 L237.82,101.81 L237.85,102.32 L237.88,102.83 L237.91,103.34 L237.94,103.84 L237.97,104.35 L238.00,104.86 L238.03,105.37 L238.06,105.87 L238.09,106.38 L238.12,106.89 L238.15,107.39 L238.18,107.90 L238.22,108.41 L238.25,108.92 L238.28,109.42 L238.31,109.93 L238.35,110.44 L238.38,110.95 L238.41,111.45 L238.44,111.96 L238.48,112.47 L238.51,112.98 L238.54,113.48 L238.57,113.99 L238.61,114.50 L238.64,115.00 L238.67,115.51 L238.71,116.02 L238.74,116.53 L238.77,117.03 L238.81,117.54 L238.84,118.05 L238.88,118.56 L238.91,119.06 L238.94,119.57 L238.98,120.08 L239.01,120.58 L239.04,121.09 L239.08,121.60 L239.11,122.11 L239.14,122.61 L239.18,123.12 L239.21,123.63 L239.24,124.14 L239.28,124.64 L239.31,125.15 L239.34,125.66 L239.38,126.17 L239.41,126.67 L239.44,127.18 L239.47,127.69 L239.51,128.19 L239.54,128.70 L239.57,129.21 L239.60,129.72 L239.63,130.22 L239.67,130.73 L239.70,131.24 L239.73,131.75 L239.76,132.25 L239.79,132.76 L239.82,133.27 L239.85,133.77 L239.88,134.28 L239.91,134.79 L239.94,135.30 L239.97,135.80 L240.00,136.31 L240.03,136.82 L240.06,137.33 L240.09,137.83 L240.12,138.34 L240.14,138.85 L240.17,139.36 L240.20,139.86 L240.23,140.37 L240.26,140.88 L240.28,141.38 L240.31,141.89 L240.34,142.40 L240.36,142.91 L240.39,143.41 L240.41,143.92 L240.44,144.43 L240.46,144.94 L240.49,145.44 L240.51,145.95 L240.54,146.46 L240.56,146.96 L240.59,147.47 L240.61,147.98 L240.63,148.49 L240.66,148.99 L240.68,149.50 L240.70,150.01 L240.72,150.52 L240.74,151.02 L240.77,151.53 L240.79,152.04 L240.81,152.54 L240.83,153.05 L240.85,153.56 L240.87,154.07 L240.89,154.57 L240.91,155.08 L240.93,155.59 L240.95,156.10 L240.97,156.60 L240.98,157.11 L241.00,157.62 L241.02,158.13 L241.04,158.63 L241.06,159.14 L241.07,159.65 L241.09,160.15 L241.11,160.66 L241.12,161.17 L241.14,161.68 L241.16,162.18 L241.17,162.69 L241.19,163.20 L241.20,163.71 L241.22,164.21 L241.23,164.72 L241.25,165.23 L241.26,165.73 L241.28,166.24 L241.29,166.75 L241.31,167.26 L241.32,167.76 L241.33,168.27 L241.35,168.78 L241.36,169.29 L241.38,169.79 L241.39,170.30 L241.40,170.81 L241.41,171.32 L241.43,171.82 L241.44,172.33 L241.45,172.84 L241.47,173.34 L241.48,173.85 L241.49,174.36 L241.50,174.87 L241.52,175.37 L241.53,175.88 L241.54,176.39 L241.55,176.90 L241.56,177.40 L241.58,177.91 L241.59,178.42 L241.60,178.92 L241.61,179.43 L241.62,179.94 L241.64,180.45 L241.65,180.95 L241.66,181.46 L241.67,181.97 L241.68,182.48 L241.70,182.98 L241.71,183.49 L241.72,184.00 L241.73,184.51 L241.75,185.01 L241.76,185.52 L241.77,186.03 L241.78,186.53 L241.80,187.04 L241.81,187.55 L241.82,188.06 L241.83,188.56 L241.85,189.07 L241.86,189.58 L241.87,190.09 L241.89,190.59 L241.90,191.10 L241.91,191.61 L241.93,192.11 L241.94,192.62 L241.95,193.13 L241.97,193.64 L241.98,194.14 L242.00,194.65 L242.01,195.16 L242.03,195.67 L242.04,196.17 L242.06,196.68 L242.07,197.19 L242.09,197.69 L242.10,198.20 L242.12,198.71 L242.13,199.22 L242.15,199.72 L242.17,200.23 L242.18,200.74 L242.20,201.25 L242.22,201.75 L242.23,202.26 L242.25,202.77 L242.27,203.28 L242.28,203.78 L242.30,204.29 L242.32,204.80 L242.34,205.30 L242.35,205.81 L242.37,206.32 L242.39,206.83 L242.41,207.33 L242.43,207.84 L242.45,208.35 L242.47,208.86 L242.48,209.36 L242.50,209.87 L242.52,210.38 L242.54,210.88 L242.56,211.39 L242.58,211.90 L242.60,212.41 L242.62,212.91 L242.64,213.42 L242.66,213.93 L242.68,214.44 L242.70,214.94 L242.72,215.45 L242.74,215.96 L242.77,216.47 L242.79,216.97 L242.81,217.48 L242.83,217.99 L242.85,218.49 L242.87,219.00 L242.89,219.51 L242.91,220.02 L242.93,220.52 L242.95,221.03 L242.97,221.54 L243.00,222.05 L243.02,222.55 L243.04,223.06 L243.06,223.57 L243.08,224.07 L243.10,224.58 L243.12,225.09 L243.14,225.60 L243.16,226.10 L243.18,226.61 L243.20,227.12 L243.22,227.63 L243.24,228.13 L243.26,228.64 L243.28,229.15 L243.30,229.66 L243.32,230.16 L243.34,230.67 L243.36,231.18 L243.38,231.68 L243.40,232.19 L243.42,232.70 L243.44,233.21 L243.45,233.71 L243.47,234.22 L243.49,234.73 L243.51,235.24 L243.52,235.74 L243.54,236.25 L243.56,236.76 L243.57,237.26 L243.59,237.77 L243.60,238.28 L243.62,238.79 L243.63,239.29 L243.65,239.80 L243.66,240.31 L243.68,240.82 L243.69,241.32 L243.70,241.83 L243.71,242.34 L243.72,242.84 L243.74,243.35 L243.75,243.86 L243.76,244.37 L243.77,244.87 L243.78,245.38 L243.79,245.89 L243.79,246.40 L243.80,246.90 L243.81,247.41 L243.82,247.92 L243.82,248.43 L243.83,248.93 L243.83,249.44 L243.84,249.95 L243.84,250.45 L243.84,250.96 L243.85,251.47 L243.85,251.98 L243.85,252.48 L243.85,252.99 L243.85,253.50 L243.85,254.01 L243.85,254.51 L243.85,255.02 L243.85,255.53 L243.84,256.03 L243.84,256.54 L243.83,257.05 L243.83,257.56 L243.82,258.06 L243.82,258.57 L243.81,259.08 L243.80,259.59 L243.79,260.09 L243.78,260.60 L243.77,261.11 L243.76,261.62 L243.75,262.12 L243.74,262.63 L243.72,263.14 L243.71,263.64 L243.70,264.15 L243.68,264.66 L243.66,265.17 L243.65,265.67 L243.63,266.18 L243.61,266.69 L243.59,267.20 L243.57,267.70 L243.55,268.21 L243.53,268.72 L243.51,269.22 L243.49,269.73 L243.46,270.24 L243.44,270.75 L243.41,271.25 L243.39,271.76 L243.36,272.27 L243.33,272.78 L243.30,273.28 Z" fill="none" stroke="#333333" stroke-width="1.1" stroke-linejoin="round"/>
<circle cx="70.98" cy="272.97" r="2.5" fill="#F0EA80"/>
<circle cx="77.11" cy="175.27" r="2.5" fill="#1CEDB0"/>
<circle cx="83.24" cy="215.30" r="2.5" fill="#64AFE2"/>
<circle cx="89.36" cy="247.59" r="2.5" fill="#1232F2"/>
<circle cx="95.49" cy="255.34" r="2.5" fill="#F8008E"/>
<circle cx="101.62" cy="262.11" r="2.5" fill="#6A5CC2"/>
<circle cx="144.53" cy="272.97" r="2.5" fill="#F0EA80"/>
<circle cx="150.66" cy="176.05" r="2.5" fill="#1CEDB0"/>
<circle cx="156.79" cy="208.51" r="2.5" fill="#64AFE2"/>
<circle cx="162.91" cy="242.85" r="2.5" fill="#1232F2"/>
<circle cx="169.04" cy="256.74" r="2.5" fill="#F8008E"/>
<circle cx="175.17" cy="262.98" r="2.5" fill="#6A5CC2"/>
<circle cx="218.08" cy="273.28" r="2.5" fill="#F0EA80"/>
<circle cx="224.21" cy="14.05" r="2.5" fill="#1CEDB0"/>
<circle cx="230.34" cy="150.61" r="2.5" fill="#64AFE2"/>
<circle cx="236.46" cy="160.13" r="2.5" fill="#1232F2"/>
<circle cx="242.59" cy="256.90" r="2.5" fill="#F8008E"/>
<circle cx="248.72" cy="260.17" r="2.5" fill="#6A5CC2"/>
<text x="37.5" y="280.10" font-size="15.1" text-anchor="end" font-weight="normal" font-style="normal" fill="#4D4D4D" stroke="#4D4D4D" stroke-width="0.3" >0</text>
<text x="37.5" y="202.06" font-size="15.1" text-anchor="end" font-weight="normal" font-style="normal" fill="#4D4D4D" stroke="#4D4D4D" stroke-width="0.3" >5</text>
<text x="37.5" y="124.03" font-size="15.1" text-anchor="end" font-weight="normal" font-style="normal" fill="#4D4D4D" stroke="#4D4D4D" stroke-width="0.3" >10</text>
<text x="37.5" y="46.00" font-size="15.1" text-anchor="end" font-weight="normal" font-style="normal" fill="#4D4D4D" stroke="#4D4D4D" stroke-width="0.3" >15</text>
<text x="86.3" y="300.7" font-size="15.1" text-anchor="middle" fill="#4D4D4D" stroke="#4D4D4D" stroke-width="0.3" xml:space="preserve">dorado </text>
<text x="86.3" y="317.3" font-size="15.1" text-anchor="middle" fill="#4D4D4D" stroke="#4D4D4D" stroke-width="0.3" xml:space="preserve">(duplex)</text>
<text x="159.85" y="300.7" font-size="15.1" text-anchor="middle" fill="#4D4D4D" stroke="#4D4D4D" stroke-width="0.3" xml:space="preserve">dorado </text>
<text x="159.85" y="317.3" font-size="15.1" text-anchor="middle" fill="#4D4D4D" stroke="#4D4D4D" stroke-width="0.3" xml:space="preserve">(simplex)</text>
<text x="233.4" y="300.7" font-size="15.1" text-anchor="middle" fill="#4D4D4D" stroke="#4D4D4D" stroke-width="0.3" xml:space="preserve">guppy</text>
<text x="233.4" y="317.3" font-size="15.1" text-anchor="middle" fill="#4D4D4D" stroke="#4D4D4D" stroke-width="0.3" xml:space="preserve"></text>
<text x="159.75" y="335.3" font-size="16.7" text-anchor="middle" font-weight="normal" font-style="normal" fill="#000" stroke="#000" stroke-width="0.3" >Basecaller</text>
<text transform="translate(12.1,143.6) rotate(-90)" font-size="16.7" text-anchor="middle" stroke="#000" stroke-width="0.3">E<tspan font-size="11.8" dy="3.8">combined</tspan></text>
<text x="0.6" y="9.5" font-size="13.2" text-anchor="start" font-weight="bold" font-style="normal" fill="#000" stroke="#000" stroke-width="0.3" >a<tspan dx="-0.2" dy="-0.9">)</tspan></text>
<line x1="321.6" x2="545.2" y1="234.50" y2="234.50" stroke="#EBEBEB" stroke-width="0.55"/>
<line x1="321.6" x2="545.2" y1="152.70" y2="152.70" stroke="#EBEBEB" stroke-width="0.55"/>
<line x1="321.6" x2="545.2" y1="70.90" y2="70.90" stroke="#EBEBEB" stroke-width="0.55"/>
<line x1="321.6" x2="545.2" y1="275.40" y2="275.40" stroke="#EBEBEB" stroke-width="1.1"/>
<line x1="321.6" x2="545.2" y1="193.60" y2="193.60" stroke="#EBEBEB" stroke-width="1.1"/>
<line x1="321.6" x2="545.2" y1="111.80" y2="111.80" stroke="#EBEBEB" stroke-width="1.1"/>
<line x1="321.6" x2="545.2" y1="30.00" y2="30.00" stroke="#EBEBEB" stroke-width="1.1"/>
<line x1="363.4" x2="363.4" y1="0.67" y2="285.9" stroke="#EBEBEB" stroke-width="1.1"/>
<line x1="433.4" x2="433.4" y1="0.67" y2="285.9" stroke="#EBEBEB" stroke-width="1.1"/>
<line x1="503.3" x2="503.3" y1="0.67" y2="285.9" stroke="#EBEBEB" stroke-width="1.1"/>
<path d="M352.35,270.08 L352.28,269.58 L352.20,269.08 L352.13,268.58 L352.06,268.08 L351.99,267.58 L351.93,267.08 L351.86,266.58 L351.79,266.07 L351.72,265.57 L351.66,265.07 L351.59,264.57 L351.53,264.07 L351.46,263.57 L351.40,263.07 L351.33,262.57 L351.27,262.07 L351.21,261.57 L351.15,261.06 L351.09,260.56 L351.03,260.06 L350.97,259.56 L350.92,259.06 L350.86,258.56 L350.80,258.06 L350.75,257.56 L350.69,257.06 L350.64,256.55 L350.59,256.05 L350.54,255.55 L350.49,255.05 L350.44,254.55 L350.39,254.05 L350.34,253.55 L350.29,253.05 L350.25,252.55 L350.20,252.05 L350.16,251.54 L350.11,251.04 L350.07,250.54 L350.03,250.04 L349.99,249.54 L349.95,249.04 L349.92,248.54 L349.88,248.04 L349.84,247.54 L349.81,247.03 L349.77,246.53 L349.74,246.03 L349.71,245.53 L349.68,245.03 L349.65,244.53 L349.62,244.03 L349.59,243.53 L349.57,243.03 L349.54,242.53 L349.52,242.02 L349.50,241.52 L349.48,241.02 L349.46,240.52 L349.44,240.02 L349.42,239.52 L349.40,239.02 L349.39,238.52 L349.37,238.02 L349.36,237.52 L349.34,237.01 L349.33,236.51 L349.32,236.01 L349.31,235.51 L349.31,235.01 L349.30,234.51 L349.29,234.01 L349.29,233.51 L349.29,233.01 L349.28,232.50 L349.28,232.00 L349.28,231.50 L349.29,231.00 L349.29,230.50 L349.29,230.00 L349.30,229.50 L349.30,229.00 L349.31,228.50 L349.32,228.00 L349.33,227.49 L349.34,226.99 L349.35,226.49 L349.36,225.99 L349.37,225.49 L349.39,224.99 L349.40,224.49 L349.42,223.99 L349.44,223.49 L349.46,222.98 L349.48,222.48 L349.50,221.98 L349.52,221.48 L349.54,220.98 L349.57,220.48 L349.59,219.98 L349.62,219.48 L349.65,218.98 L349.68,218.48 L349.70,217.97 L349.73,217.47 L349.76,216.97 L349.80,216.47 L349.83,215.97 L349.86,215.47 L349.90,214.97 L349.93,214.47 L349.97,213.97 L350.01,213.46 L350.04,212.96 L350.08,212.46 L350.12,211.96 L350.16,211.46 L350.20,210.96 L350.25,210.46 L350.29,209.96 L350.33,209.46 L350.38,208.96 L350.42,208.45 L350.47,207.95 L350.51,207.45 L350.56,206.95 L350.61,206.45 L350.65,205.95 L350.70,205.45 L350.75,204.95 L350.80,204.45 L350.85,203.95 L350.90,203.44 L350.95,202.94 L351.01,202.44 L351.06,201.94 L351.11,201.44 L351.17,200.94 L351.22,200.44 L351.27,199.94 L351.33,199.44 L351.38,198.93 L351.44,198.43 L351.50,197.93 L351.55,197.43 L351.61,196.93 L351.66,196.43 L351.72,195.93 L351.78,195.43 L351.84,194.93 L351.90,194.43 L351.95,193.92 L352.01,193.42 L352.07,192.92 L352.13,192.42 L352.19,191.92 L352.25,191.42 L352.31,190.92 L352.37,190.42 L352.43,189.92 L352.49,189.41 L352.54,188.91 L352.60,188.41 L352.66,187.91 L352.72,187.41 L352.78,186.91 L352.84,186.41 L352.90,185.91 L352.96,185.41 L353.02,184.91 L353.08,184.40 L353.14,183.90 L353.20,183.40 L353.26,182.90 L353.32,182.40 L353.38,181.90 L353.44,181.40 L353.50,180.90 L353.56,180.40 L353.61,179.89 L353.67,179.39 L353.73,178.89 L353.79,178.39 L353.85,177.89 L353.90,177.39 L353.96,176.89 L354.02,176.39 L354.07,175.89 L354.13,175.39 L354.19,174.88 L354.24,174.38 L354.30,173.88 L354.35,173.38 L354.41,172.88 L354.46,172.38 L354.51,171.88 L354.57,171.38 L354.62,170.88 L354.67,170.38 L354.73,169.87 L354.78,169.37 L354.83,168.87 L354.88,168.37 L354.93,167.87 L354.98,167.37 L355.03,166.87 L355.08,166.37 L355.13,165.87 L355.18,165.36 L355.23,164.86 L355.28,164.36 L355.33,163.86 L355.37,163.36 L355.42,162.86 L355.47,162.36 L355.51,161.86 L355.56,161.36 L355.60,160.86 L355.65,160.35 L355.69,159.85 L355.73,159.35 L355.78,158.85 L355.82,158.35 L355.86,157.85 L355.90,157.35 L355.95,156.85 L355.99,156.35 L356.03,155.84 L356.07,155.34 L356.11,154.84 L356.15,154.34 L356.18,153.84 L356.22,153.34 L356.26,152.84 L356.30,152.34 L356.33,151.84 L356.37,151.34 L356.41,150.83 L356.44,150.33 L356.48,149.83 L356.51,149.33 L356.55,148.83 L356.58,148.33 L356.61,147.83 L356.65,147.33 L356.68,146.83 L356.71,146.32 L356.74,145.82 L356.77,145.32 L356.81,144.82 L356.84,144.32 L356.87,143.82 L356.90,143.32 L356.93,142.82 L356.95,142.32 L356.98,141.82 L357.01,141.31 L357.04,140.81 L357.07,140.31 L357.09,139.81 L357.12,139.31 L357.15,138.81 L357.18,138.31 L357.20,137.81 L357.23,137.31 L357.25,136.81 L357.28,136.30 L357.30,135.80 L357.33,135.30 L357.35,134.80 L357.38,134.30 L357.40,133.80 L357.42,133.30 L357.45,132.80 L357.47,132.30 L357.49,131.79 L357.52,131.29 L357.54,130.79 L357.56,130.29 L357.58,129.79 L357.60,129.29 L357.62,128.79 L357.65,128.29 L357.67,127.79 L357.69,127.29 L357.71,126.78 L357.73,126.28 L357.75,125.78 L357.77,125.28 L357.79,124.78 L357.81,124.28 L357.83,123.78 L357.85,123.28 L357.87,122.78 L357.89,122.27 L357.91,121.77 L357.93,121.27 L357.94,120.77 L357.96,120.27 L357.98,119.77 L358.00,119.27 L358.02,118.77 L358.04,118.27 L358.05,117.77 L358.07,117.26 L358.09,116.76 L358.11,116.26 L358.13,115.76 L358.14,115.26 L358.16,114.76 L358.18,114.26 L358.19,113.76 L358.21,113.26 L358.23,112.75 L358.25,112.25 L358.26,111.75 L358.28,111.25 L358.30,110.75 L358.31,110.25 L358.33,109.75 L358.35,109.25 L358.36,108.75 L358.38,108.25 L358.39,107.74 L358.41,107.24 L358.43,106.74 L358.44,106.24 L358.46,105.74 L358.47,105.24 L358.49,104.74 L358.50,104.24 L358.52,103.74 L358.53,103.24 L358.55,102.73 L358.56,102.23 L358.58,101.73 L358.59,101.23 L358.61,100.73 L358.62,100.23 L358.64,99.73 L358.65,99.23 L358.67,98.73 L358.68,98.22 L358.70,97.72 L358.71,97.22 L358.72,96.72 L358.74,96.22 L358.75,95.72 L358.76,95.22 L358.78,94.72 L358.79,94.22 L358.80,93.72 L358.82,93.21 L358.83,92.71 L358.84,92.21 L358.85,91.71 L358.87,91.21 L358.88,90.71 L358.89,90.21 L358.90,89.71 L358.91,89.21 L358.92,88.70 L358.94,88.20 L358.95,87.70 L358.96,87.20 L358.97,86.70 L358.98,86.20 L358.99,85.70 L359.00,85.20 L359.01,84.70 L359.02,84.20 L359.03,83.69 L359.04,83.19 L359.05,82.69 L359.06,82.19 L359.07,81.69 L359.08,81.19 L359.08,80.69 L359.09,80.19 L359.10,79.69 L359.11,79.18 L359.12,78.68 L359.12,78.18 L359.13,77.68 L359.14,77.18 L359.14,76.68 L359.15,76.18 L359.16,75.68 L359.16,75.18 L359.17,74.68 L359.17,74.17 L359.18,73.67 L359.18,73.17 L359.19,72.67 L359.19,72.17 L359.20,71.67 L359.20,71.17 L359.21,70.67 L359.21,70.17 L359.21,69.66 L359.22,69.16 L359.22,68.66 L359.22,68.16 L359.22,67.66 L359.23,67.16 L359.23,66.66 L359.23,66.16 L359.23,65.66 L359.23,65.16 L359.24,64.65 L359.24,64.15 L359.24,63.65 L359.24,63.15 L359.24,62.65 L359.24,62.15 L359.24,61.65 L359.24,61.15 L359.24,60.65 L359.24,60.15 L359.24,59.64 L359.23,59.14 L359.23,58.64 L359.23,58.14 L359.23,57.64 L359.23,57.14 L359.23,56.64 L359.23,56.14 L359.22,55.64 L359.22,55.13 L359.22,54.63 L359.22,54.13 L359.21,53.63 L359.21,53.13 L359.21,52.63 L359.20,52.13 L359.20,51.63 L359.20,51.13 L359.19,50.63 L359.19,50.12 L359.19,49.62 L359.18,49.12 L359.18,48.62 L359.18,48.12 L359.17,47.62 L359.17,47.12 L359.16,46.62 L359.16,46.12 L359.16,45.61 L359.15,45.11 L359.15,44.61 L359.14,44.11 L359.14,43.61 L359.13,43.11 L359.13,42.61 L359.13,42.11 L359.12,41.61 L359.12,41.11 L359.11,40.60 L359.11,40.10 L359.11,39.60 L359.10,39.10 L359.10,38.60 L359.09,38.10 L359.09,37.60 L359.09,37.10 L359.08,36.60 L359.08,36.09 L359.08,35.59 L359.07,35.09 L359.07,34.59 L359.07,34.09 L359.06,33.59 L359.06,33.09 L359.06,32.59 L359.06,32.09 L359.06,31.59 L359.05,31.08 L359.05,30.58 L359.05,30.08 L359.05,29.58 L359.05,29.08 L359.05,28.58 L359.04,28.08 L359.04,27.58 L359.04,27.08 L359.04,26.58 L359.04,26.07 L359.04,25.57 L359.04,25.07 L359.04,24.57 L359.05,24.07 L359.05,23.57 L359.05,23.07 L359.05,22.57 L359.05,22.07 L359.05,21.56 L359.06,21.06 L359.06,20.56 L359.06,20.06 L359.07,19.56 L359.07,19.06 L359.07,18.56 L359.08,18.06 L359.08,17.56 L359.09,17.06 L359.09,16.55 L359.10,16.05 L359.11,15.55 L359.11,15.05 L359.12,14.55 L359.13,14.05 L367.67,14.05 L367.68,14.55 L367.69,15.05 L367.69,15.55 L367.70,16.05 L367.71,16.55 L367.71,17.06 L367.72,17.56 L367.72,18.06 L367.73,18.56 L367.73,19.06 L367.73,19.56 L367.74,20.06 L367.74,20.56 L367.74,21.06 L367.75,21.56 L367.75,22.07 L367.75,22.57 L367.75,23.07 L367.75,23.57 L367.75,24.07 L367.76,24.57 L367.76,25.07 L367.76,25.57 L367.76,26.07 L367.76,26.58 L367.76,27.08 L367.76,27.58 L367.76,28.08 L367.75,28.58 L367.75,29.08 L367.75,29.58 L367.75,30.08 L367.75,30.58 L367.75,31.08 L367.74,31.59 L367.74,32.09 L367.74,32.59 L367.74,33.09 L367.74,33.59 L367.73,34.09 L367.73,34.59 L367.73,35.09 L367.72,35.59 L367.72,36.09 L367.72,36.60 L367.71,37.10 L367.71,37.60 L367.71,38.10 L367.70,38.60 L367.70,39.10 L367.69,39.60 L367.69,40.10 L367.69,40.60 L367.68,41.11 L367.68,41.61 L367.67,42.11 L367.67,42.61 L367.67,43.11 L367.66,43.61 L367.66,44.11 L367.65,44.61 L367.65,45.11 L367.64,45.61 L367.64,46.12 L367.64,46.62 L367.63,47.12 L367.63,47.62 L367.62,48.12 L367.62,48.62 L367.62,49.12 L367.61,49.62 L367.61,50.12 L367.61,50.63 L367.60,51.13 L367.60,51.63 L367.60,52.13 L367.59,52.63 L367.59,53.13 L367.59,53.63 L367.58,54.13 L367.58,54.63 L367.58,55.13 L367.58,55.64 L367.57,56.14 L367.57,56.64 L367.57,57.14 L367.57,57.64 L367.57,58.14 L367.57,58.64 L367.57,59.14 L367.56,59.64 L367.56,60.15 L367.56,60.65 L367.56,61.15 L367.56,61.65 L367.56,62.15 L367.56,62.65 L367.56,63.15 L367.56,63.65 L367.56,64.15 L367.56,64.65 L367.57,65.16 L367.57,65.66 L367.57,66.16 L367.57,66.66 L367.57,67.16 L367.58,67.66 L367.58,68.16 L367.58,68.66 L367.58,69.16 L367.59,69.66 L367.59,70.17 L367.59,70.67 L367.60,71.17 L367.60,71.67 L367.61,72.17 L367.61,72.67 L367.62,73.17 L367.62,73.67 L367.63,74.17 L367.63,74.68 L367.64,75.18 L367.64,75.68 L367.65,76.18 L367.66,76.68 L367.66,77.18 L367.67,77.68 L367.68,78.18 L367.68,78.68 L367.69,79.18 L367.70,79.69 L367.71,80.19 L367.72,80.69 L367.72,81.19 L367.73,81.69 L367.74,82.19 L367.75,82.69 L367.76,83.19 L367.77,83.69 L367.78,84.20 L367.79,84.70 L367.80,85.20 L367.81,85.70 L367.82,86.20 L367.83,86.70 L367.84,87.20 L367.85,87.70 L367.86,88.20 L367.88,88.70 L367.89,89.21 L367.90,89.71 L367.91,90.21 L367.92,90.71 L367.93,91.21 L367.95,91.71 L367.96,92.21 L367.97,92.71 L367.98,93.21 L368.00,93.72 L368.01,94.22 L368.02,94.72 L368.04,95.22 L368.05,95.72 L368.06,96.22 L368.08,96.72 L368.09,97.22 L368.10,97.72 L368.12,98.22 L368.13,98.73 L368.15,99.23 L368.16,99.73 L368.18,100.23 L368.19,100.73 L368.21,101.23 L368.22,101.73 L368.24,102.23 L368.25,102.73 L368.27,103.24 L368.28,103.74 L368.30,104.24 L368.31,104.74 L368.33,105.24 L368.34,105.74 L368.36,106.24 L368.37,106.74 L368.39,107.24 L368.41,107.74 L368.42,108.25 L368.44,108.75 L368.45,109.25 L368.47,109.75 L368.49,110.25 L368.50,110.75 L368.52,111.25 L368.54,111.75 L368.55,112.25 L368.57,112.75 L368.59,113.26 L368.61,113.76 L368.62,114.26 L368.64,114.76 L368.66,115.26 L368.67,115.76 L368.69,116.26 L368.71,116.76 L368.73,117.26 L368.75,117.77 L368.76,118.27 L368.78,118.77 L368.80,119.27 L368.82,119.77 L368.84,120.27 L368.86,120.77 L368.87,121.27 L368.89,121.77 L368.91,122.27 L368.93,122.78 L368.95,123.28 L368.97,123.78 L368.99,124.28 L369.01,124.78 L369.03,125.28 L369.05,125.78 L369.07,126.28 L369.09,126.78 L369.11,127.29 L369.13,127.79 L369.15,128.29 L369.18,128.79 L369.20,129.29 L369.22,129.79 L369.24,130.29 L369.26,130.79 L369.28,131.29 L369.31,131.79 L369.33,132.30 L369.35,132.80 L369.38,133.30 L369.40,133.80 L369.42,134.30 L369.45,134.80 L369.47,135.30 L369.50,135.80 L369.52,136.30 L369.55,136.81 L369.57,137.31 L369.60,137.81 L369.62,138.31 L369.65,138.81 L369.68,139.31 L369.71,139.81 L369.73,140.31 L369.76,140.81 L369.79,141.31 L369.82,141.82 L369.85,142.32 L369.87,142.82 L369.90,143.32 L369.93,143.82 L369.96,144.32 L369.99,144.82 L370.03,145.32 L370.06,145.82 L370.09,146.32 L370.12,146.83 L370.15,147.33 L370.19,147.83 L370.22,148.33 L370.25,148.83 L370.29,149.33 L370.32,149.83 L370.36,150.33 L370.39,150.83 L370.43,151.34 L370.47,151.84 L370.50,152.34 L370.54,152.84 L370.58,153.34 L370.62,153.84 L370.65,154.34 L370.69,154.84 L370.73,155.34 L370.77,155.84 L370.81,156.35 L370.85,156.85 L370.90,157.35 L370.94,157.85 L370.98,158.35 L371.02,158.85 L371.07,159.35 L371.11,159.85 L371.15,160.35 L371.20,160.86 L371.24,161.36 L371.29,161.86 L371.33,162.36 L371.38,162.86 L371.43,163.36 L371.47,163.86 L371.52,164.36 L371.57,164.86 L371.62,165.36 L371.67,165.87 L371.72,166.37 L371.77,166.87 L371.82,167.37 L371.87,167.87 L371.92,168.37 L371.97,168.87 L372.02,169.37 L372.07,169.87 L372.13,170.38 L372.18,170.88 L372.23,171.38 L372.29,171.88 L372.34,172.38 L372.39,172.88 L372.45,173.38 L372.50,173.88 L372.56,174.38 L372.61,174.88 L372.67,175.39 L372.73,175.89 L372.78,176.39 L372.84,176.89 L372.90,177.39 L372.95,177.89 L373.01,178.39 L373.07,178.89 L373.13,179.39 L373.19,179.89 L373.24,180.40 L373.30,180.90 L373.36,181.40 L373.42,181.90 L373.48,182.40 L373.54,182.90 L373.60,183.40 L373.66,183.90 L373.72,184.40 L373.78,184.91 L373.84,185.41 L373.90,185.91 L373.96,186.41 L374.02,186.91 L374.08,187.41 L374.14,187.91 L374.20,188.41 L374.26,188.91 L374.31,189.41 L374.37,189.92 L374.43,190.42 L374.49,190.92 L374.55,191.42 L374.61,191.92 L374.67,192.42 L374.73,192.92 L374.79,193.42 L374.85,193.92 L374.90,194.43 L374.96,194.93 L375.02,195.43 L375.08,195.93 L375.14,196.43 L375.19,196.93 L375.25,197.43 L375.30,197.93 L375.36,198.43 L375.42,198.93 L375.47,199.44 L375.53,199.94 L375.58,200.44 L375.63,200.94 L375.69,201.44 L375.74,201.94 L375.79,202.44 L375.85,202.94 L375.90,203.44 L375.95,203.95 L376.00,204.45 L376.05,204.95 L376.10,205.45 L376.15,205.95 L376.19,206.45 L376.24,206.95 L376.29,207.45 L376.33,207.95 L376.38,208.45 L376.42,208.96 L376.47,209.46 L376.51,209.96 L376.55,210.46 L376.60,210.96 L376.64,211.46 L376.68,211.96 L376.72,212.46 L376.76,212.96 L376.79,213.46 L376.83,213.97 L376.87,214.47 L376.90,214.97 L376.94,215.47 L376.97,215.97 L377.00,216.47 L377.04,216.97 L377.07,217.47 L377.10,217.97 L377.12,218.48 L377.15,218.98 L377.18,219.48 L377.21,219.98 L377.23,220.48 L377.26,220.98 L377.28,221.48 L377.30,221.98 L377.32,222.48 L377.34,222.98 L377.36,223.49 L377.38,223.99 L377.40,224.49 L377.41,224.99 L377.43,225.49 L377.44,225.99 L377.45,226.49 L377.46,226.99 L377.47,227.49 L377.48,228.00 L377.49,228.50 L377.50,229.00 L377.50,229.50 L377.51,230.00 L377.51,230.50 L377.51,231.00 L377.52,231.50 L377.52,232.00 L377.52,232.50 L377.51,233.01 L377.51,233.51 L377.51,234.01 L377.50,234.51 L377.49,235.01 L377.49,235.51 L377.48,236.01 L377.47,236.51 L377.46,237.01 L377.44,237.52 L377.43,238.02 L377.41,238.52 L377.40,239.02 L377.38,239.52 L377.36,240.02 L377.34,240.52 L377.32,241.02 L377.30,241.52 L377.28,242.02 L377.26,242.53 L377.23,243.03 L377.21,243.53 L377.18,244.03 L377.15,244.53 L377.12,245.03 L377.09,245.53 L377.06,246.03 L377.03,246.53 L376.99,247.03 L376.96,247.54 L376.92,248.04 L376.88,248.54 L376.85,249.04 L376.81,249.54 L376.77,250.04 L376.73,250.54 L376.69,251.04 L376.64,251.54 L376.60,252.05 L376.55,252.55 L376.51,253.05 L376.46,253.55 L376.41,254.05 L376.36,254.55 L376.31,255.05 L376.26,255.55 L376.21,256.05 L376.16,256.55 L376.11,257.06 L376.05,257.56 L376.00,258.06 L375.94,258.56 L375.88,259.06 L375.83,259.56 L375.77,260.06 L375.71,260.56 L375.65,261.06 L375.59,261.57 L375.53,262.07 L375.47,262.57 L375.40,263.07 L375.34,263.57 L375.27,264.07 L375.21,264.57 L375.14,265.07 L375.08,265.57 L375.01,266.07 L374.94,266.58 L374.87,267.08 L374.81,267.58 L374.74,268.08 L374.67,268.58 L374.60,269.08 L374.52,269.58 L374.45,270.08 Z" fill="none" stroke="#333333" stroke-width="1.1" stroke-linejoin="round"/>
<path d="M409.95,271.72 L409.81,271.54 L409.67,271.37 L409.54,271.19 L409.40,271.01 L409.27,270.83 L409.14,270.66 L409.00,270.48 L408.87,270.30 L408.74,270.13 L408.61,269.95 L408.48,269.77 L408.36,269.60 L408.23,269.42 L408.11,269.24 L407.98,269.07 L407.86,268.89 L407.74,268.71 L407.62,268.54 L407.50,268.36 L407.38,268.18 L407.27,268.00 L407.15,267.83 L407.04,267.65 L406.93,267.47 L406.81,267.30 L406.70,267.12 L406.60,266.94 L406.49,266.77 L406.38,266.59 L406.28,266.41 L406.17,266.24 L406.07,266.06 L405.97,265.88 L405.87,265.70 L405.77,265.53 L405.68,265.35 L405.58,265.17 L405.48,265.00 L405.39,264.82 L405.30,264.64 L405.21,264.47 L405.12,264.29 L405.03,264.11 L404.95,263.94 L404.86,263.76 L404.78,263.58 L404.70,263.41 L404.62,263.23 L404.54,263.05 L404.46,262.87 L404.38,262.70 L404.31,262.52 L404.23,262.34 L404.16,262.17 L404.09,261.99 L404.02,261.81 L403.95,261.64 L403.88,261.46 L403.82,261.28 L403.75,261.11 L403.69,260.93 L403.63,260.75 L403.57,260.58 L403.51,260.40 L403.45,260.22 L403.39,260.04 L403.34,259.87 L403.28,259.69 L403.23,259.51 L403.18,259.34 L403.13,259.16 L403.08,258.98 L403.03,258.81 L402.98,258.63 L402.94,258.45 L402.89,258.28 L402.85,258.10 L402.81,257.92 L402.77,257.74 L402.73,257.57 L402.69,257.39 L402.65,257.21 L402.62,257.04 L402.58,256.86 L402.55,256.68 L402.52,256.51 L402.48,256.33 L402.45,256.15 L402.42,255.98 L402.39,255.80 L402.37,255.62 L402.34,255.45 L402.31,255.27 L402.29,255.09 L402.27,254.91 L402.24,254.74 L402.22,254.56 L402.20,254.38 L402.18,254.21 L402.16,254.03 L402.14,253.85 L402.13,253.68 L402.11,253.50 L402.09,253.32 L402.08,253.15 L402.06,252.97 L402.05,252.79 L402.04,252.62 L402.03,252.44 L402.01,252.26 L402.00,252.08 L401.99,251.91 L401.99,251.73 L401.98,251.55 L401.97,251.38 L401.96,251.20 L401.96,251.02 L401.95,250.85 L401.95,250.67 L401.94,250.49 L401.94,250.32 L401.93,250.14 L401.93,249.96 L401.93,249.79 L401.93,249.61 L401.92,249.43 L401.92,249.25 L401.92,249.08 L401.92,248.90 L401.92,248.72 L401.92,248.55 L401.93,248.37 L401.93,248.19 L401.93,248.02 L401.93,247.84 L401.93,247.66 L401.94,247.49 L401.94,247.31 L401.95,247.13 L401.95,246.95 L401.95,246.78 L401.96,246.60 L401.96,246.42 L401.97,246.25 L401.98,246.07 L401.98,245.89 L401.99,245.72 L401.99,245.54 L402.00,245.36 L402.01,245.19 L402.02,245.01 L402.02,244.83 L402.03,244.66 L402.04,244.48 L402.05,244.30 L402.06,244.12 L402.07,243.95 L402.07,243.77 L402.08,243.59 L402.09,243.42 L402.10,243.24 L402.11,243.06 L402.12,242.89 L402.13,242.71 L402.14,242.53 L402.15,242.36 L402.17,242.18 L402.18,242.00 L402.19,241.83 L402.20,241.65 L402.21,241.47 L402.22,241.29 L402.24,241.12 L402.25,240.94 L402.26,240.76 L402.27,240.59 L402.29,240.41 L402.30,240.23 L402.31,240.06 L402.33,239.88 L402.34,239.70 L402.36,239.53 L402.37,239.35 L402.39,239.17 L402.40,238.99 L402.42,238.82 L402.43,238.64 L402.45,238.46 L402.46,238.29 L402.48,238.11 L402.50,237.93 L402.52,237.76 L402.53,237.58 L402.55,237.40 L402.57,237.23 L402.59,237.05 L402.61,236.87 L402.63,236.70 L402.65,236.52 L402.67,236.34 L402.69,236.16 L402.71,235.99 L402.73,235.81 L402.75,235.63 L402.78,235.46 L402.80,235.28 L402.82,235.10 L402.85,234.93 L402.87,234.75 L402.90,234.57 L402.93,234.40 L402.95,234.22 L402.98,234.04 L403.01,233.87 L403.04,233.69 L403.07,233.51 L403.10,233.33 L403.13,233.16 L403.16,232.98 L403.19,232.80 L403.22,232.63 L403.26,232.45 L403.29,232.27 L403.32,232.10 L403.36,231.92 L403.40,231.74 L403.43,231.57 L403.47,231.39 L403.51,231.21 L403.55,231.04 L403.59,230.86 L403.63,230.68 L403.68,230.50 L403.72,230.33 L403.76,230.15 L403.81,229.97 L403.85,229.80 L403.90,229.62 L403.95,229.44 L404.00,229.27 L404.05,229.09 L404.10,228.91 L404.15,228.74 L404.20,228.56 L404.26,228.38 L404.31,228.20 L404.37,228.03 L404.43,227.85 L404.48,227.67 L404.54,227.50 L404.60,227.32 L404.67,227.14 L404.73,226.97 L404.79,226.79 L404.86,226.61 L404.92,226.44 L404.99,226.26 L405.06,226.08 L405.12,225.91 L405.19,225.73 L405.27,225.55 L405.34,225.37 L405.41,225.20 L405.49,225.02 L405.56,224.84 L405.64,224.67 L405.72,224.49 L405.80,224.31 L405.88,224.14 L405.96,223.96 L406.04,223.78 L406.12,223.61 L406.21,223.43 L406.29,223.25 L406.38,223.08 L406.47,222.90 L406.56,222.72 L406.65,222.54 L406.74,222.37 L406.83,222.19 L406.92,222.01 L407.02,221.84 L407.11,221.66 L407.21,221.48 L407.30,221.31 L407.40,221.13 L407.50,220.95 L407.60,220.78 L407.70,220.60 L407.80,220.42 L407.91,220.25 L408.01,220.07 L408.11,219.89 L408.22,219.71 L408.33,219.54 L408.43,219.36 L408.54,219.18 L408.65,219.01 L408.76,218.83 L408.87,218.65 L408.98,218.48 L409.09,218.30 L409.20,218.12 L409.32,217.95 L409.43,217.77 L409.55,217.59 L409.66,217.41 L409.78,217.24 L409.89,217.06 L410.01,216.88 L410.13,216.71 L410.24,216.53 L410.36,216.35 L410.48,216.18 L410.60,216.00 L410.72,215.82 L410.84,215.65 L410.96,215.47 L411.08,215.29 L411.20,215.12 L411.32,214.94 L411.44,214.76 L411.56,214.58 L411.68,214.41 L411.80,214.23 L411.92,214.05 L412.04,213.88 L412.17,213.70 L412.29,213.52 L412.41,213.35 L412.53,213.17 L412.65,212.99 L412.77,212.82 L412.89,212.64 L413.02,212.46 L413.14,212.29 L413.26,212.11 L413.38,211.93 L413.50,211.75 L413.62,211.58 L413.74,211.40 L413.85,211.22 L413.97,211.05 L414.09,210.87 L414.21,210.69 L414.33,210.52 L414.44,210.34 L414.56,210.16 L414.67,209.99 L414.79,209.81 L414.90,209.63 L415.02,209.45 L415.13,209.28 L415.24,209.10 L415.35,208.92 L415.46,208.75 L415.57,208.57 L415.68,208.39 L415.79,208.22 L415.90,208.04 L416.01,207.86 L416.11,207.69 L416.22,207.51 L416.32,207.33 L416.42,207.16 L416.53,206.98 L416.63,206.80 L416.73,206.62 L416.82,206.45 L416.92,206.27 L417.02,206.09 L417.11,205.92 L417.21,205.74 L417.30,205.56 L417.39,205.39 L417.49,205.21 L417.58,205.03 L417.66,204.86 L417.75,204.68 L417.84,204.50 L417.92,204.33 L418.01,204.15 L418.09,203.97 L418.17,203.79 L418.25,203.62 L418.33,203.44 L418.40,203.26 L418.48,203.09 L418.56,202.91 L418.63,202.73 L418.70,202.56 L418.77,202.38 L418.84,202.20 L418.91,202.03 L418.97,201.85 L419.04,201.67 L419.10,201.50 L419.17,201.32 L419.23,201.14 L419.29,200.96 L419.35,200.79 L419.40,200.61 L419.46,200.43 L419.51,200.26 L419.57,200.08 L419.62,199.90 L419.67,199.73 L419.72,199.55 L419.77,199.37 L419.81,199.20 L419.86,199.02 L419.90,198.84 L419.95,198.66 L419.99,198.49 L420.03,198.31 L420.07,198.13 L420.11,197.96 L420.14,197.78 L420.18,197.60 L420.21,197.43 L420.25,197.25 L420.28,197.07 L420.31,196.90 L420.34,196.72 L420.37,196.54 L420.39,196.37 L420.42,196.19 L420.45,196.01 L420.47,195.83 L420.49,195.66 L420.52,195.48 L420.54,195.30 L420.56,195.13 L420.58,194.95 L420.60,194.77 L420.62,194.60 L420.63,194.42 L420.65,194.24 L420.66,194.07 L420.68,193.89 L420.69,193.71 L420.71,193.54 L420.72,193.36 L420.73,193.18 L420.74,193.00 L420.75,192.83 L420.76,192.65 L420.77,192.47 L420.78,192.30 L420.79,192.12 L420.80,191.94 L420.80,191.77 L420.81,191.59 L420.82,191.41 L420.82,191.24 L420.83,191.06 L420.83,190.88 L420.84,190.70 L420.84,190.53 L420.85,190.35 L420.85,190.17 L420.86,190.00 L420.86,189.82 L420.86,189.64 L420.87,189.47 L420.87,189.29 L420.87,189.11 L420.88,188.94 L420.88,188.76 L420.88,188.58 L420.89,188.41 L420.89,188.23 L420.89,188.05 L420.90,187.87 L420.90,187.70 L420.90,187.52 L420.91,187.34 L420.91,187.17 L420.92,186.99 L420.92,186.81 L420.93,186.64 L420.93,186.46 L420.94,186.28 L420.94,186.11 L420.95,185.93 L420.96,185.75 L420.96,185.58 L420.97,185.40 L420.98,185.22 L420.99,185.04 L421.00,184.87 L421.01,184.69 L421.02,184.51 L421.03,184.34 L421.04,184.16 L421.05,183.98 L421.06,183.81 L421.08,183.63 L421.09,183.45 L421.10,183.28 L421.12,183.10 L421.13,182.92 L421.15,182.75 L421.17,182.57 L421.19,182.39 L421.20,182.21 L421.22,182.04 L421.24,181.86 L421.27,181.68 L421.29,181.51 L421.31,181.33 L445.49,181.33 L445.51,181.51 L445.53,181.68 L445.56,181.86 L445.58,182.04 L445.60,182.21 L445.61,182.39 L445.63,182.57 L445.65,182.75 L445.67,182.92 L445.68,183.10 L445.70,183.28 L445.71,183.45 L445.72,183.63 L445.74,183.81 L445.75,183.98 L445.76,184.16 L445.77,184.34 L445.78,184.51 L445.79,184.69 L445.80,184.87 L445.81,185.04 L445.82,185.22 L445.83,185.40 L445.84,185.58 L445.84,185.75 L445.85,185.93 L445.86,186.11 L445.86,186.28 L445.87,186.46 L445.87,186.64 L445.88,186.81 L445.88,186.99 L445.89,187.17 L445.89,187.34 L445.90,187.52 L445.90,187.70 L445.90,187.87 L445.91,188.05 L445.91,188.23 L445.91,188.41 L445.92,188.58 L445.92,188.76 L445.92,188.94 L445.93,189.11 L445.93,189.29 L445.93,189.47 L445.94,189.64 L445.94,189.82 L445.94,190.00 L445.95,190.17 L445.95,190.35 L445.96,190.53 L445.96,190.70 L445.97,190.88 L445.97,191.06 L445.98,191.24 L445.98,191.41 L445.99,191.59 L446.00,191.77 L446.00,191.94 L446.01,192.12 L446.02,192.30 L446.03,192.47 L446.04,192.65 L446.05,192.83 L446.06,193.00 L446.07,193.18 L446.08,193.36 L446.09,193.54 L446.11,193.71 L446.12,193.89 L446.14,194.07 L446.15,194.24 L446.17,194.42 L446.18,194.60 L446.20,194.77 L446.22,194.95 L446.24,195.13 L446.26,195.30 L446.28,195.48 L446.31,195.66 L446.33,195.83 L446.35,196.01 L446.38,196.19 L446.41,196.37 L446.43,196.54 L446.46,196.72 L446.49,196.90 L446.52,197.07 L446.55,197.25 L446.59,197.43 L446.62,197.60 L446.66,197.78 L446.69,197.96 L446.73,198.13 L446.77,198.31 L446.81,198.49 L446.85,198.66 L446.90,198.84 L446.94,199.02 L446.99,199.20 L447.03,199.37 L447.08,199.55 L447.13,199.73 L447.18,199.90 L447.23,200.08 L447.29,200.26 L447.34,200.43 L447.40,200.61 L447.45,200.79 L447.51,200.96 L447.57,201.14 L447.63,201.32 L447.70,201.50 L447.76,201.67 L447.83,201.85 L447.89,202.03 L447.96,202.20 L448.03,202.38 L448.10,202.56 L448.17,202.73 L448.24,202.91 L448.32,203.09 L448.40,203.26 L448.47,203.44 L448.55,203.62 L448.63,203.79 L448.71,203.97 L448.79,204.15 L448.88,204.33 L448.96,204.50 L449.05,204.68 L449.14,204.86 L449.22,205.03 L449.31,205.21 L449.41,205.39 L449.50,205.56 L449.59,205.74 L449.69,205.92 L449.78,206.09 L449.88,206.27 L449.98,206.45 L450.07,206.62 L450.17,206.80 L450.27,206.98 L450.38,207.16 L450.48,207.33 L450.58,207.51 L450.69,207.69 L450.79,207.86 L450.90,208.04 L451.01,208.22 L451.12,208.39 L451.23,208.57 L451.34,208.75 L451.45,208.92 L451.56,209.10 L451.67,209.28 L451.78,209.45 L451.90,209.63 L452.01,209.81 L452.13,209.99 L452.24,210.16 L452.36,210.34 L452.47,210.52 L452.59,210.69 L452.71,210.87 L452.83,211.05 L452.95,211.22 L453.06,211.40 L453.18,211.58 L453.30,211.75 L453.42,211.93 L453.54,212.11 L453.66,212.29 L453.78,212.46 L453.91,212.64 L454.03,212.82 L454.15,212.99 L454.27,213.17 L454.39,213.35 L454.51,213.52 L454.63,213.70 L454.76,213.88 L454.88,214.05 L455.00,214.23 L455.12,214.41 L455.24,214.58 L455.36,214.76 L455.48,214.94 L455.60,215.12 L455.72,215.29 L455.84,215.47 L455.96,215.65 L456.08,215.82 L456.20,216.00 L456.32,216.18 L456.44,216.35 L456.56,216.53 L456.67,216.71 L456.79,216.88 L456.91,217.06 L457.02,217.24 L457.14,217.41 L457.25,217.59 L457.37,217.77 L457.48,217.95 L457.60,218.12 L457.71,218.30 L457.82,218.48 L457.93,218.65 L458.04,218.83 L458.15,219.01 L458.26,219.18 L458.37,219.36 L458.47,219.54 L458.58,219.71 L458.69,219.89 L458.79,220.07 L458.89,220.25 L459.00,220.42 L459.10,220.60 L459.20,220.78 L459.30,220.95 L459.40,221.13 L459.50,221.31 L459.59,221.48 L459.69,221.66 L459.78,221.84 L459.88,222.01 L459.97,222.19 L460.06,222.37 L460.15,222.54 L460.24,222.72 L460.33,222.90 L460.42,223.08 L460.51,223.25 L460.59,223.43 L460.68,223.61 L460.76,223.78 L460.84,223.96 L460.92,224.14 L461.00,224.31 L461.08,224.49 L461.16,224.67 L461.24,224.84 L461.31,225.02 L461.39,225.20 L461.46,225.37 L461.53,225.55 L461.61,225.73 L461.68,225.91 L461.74,226.08 L461.81,226.26 L461.88,226.44 L461.94,226.61 L462.01,226.79 L462.07,226.97 L462.13,227.14 L462.20,227.32 L462.26,227.50 L462.32,227.67 L462.37,227.85 L462.43,228.03 L462.49,228.20 L462.54,228.38 L462.60,228.56 L462.65,228.74 L462.70,228.91 L462.75,229.09 L462.80,229.27 L462.85,229.44 L462.90,229.62 L462.95,229.80 L462.99,229.97 L463.04,230.15 L463.08,230.33 L463.12,230.50 L463.17,230.68 L463.21,230.86 L463.25,231.04 L463.29,231.21 L463.33,231.39 L463.37,231.57 L463.40,231.74 L463.44,231.92 L463.48,232.10 L463.51,232.27 L463.54,232.45 L463.58,232.63 L463.61,232.80 L463.64,232.98 L463.67,233.16 L463.70,233.33 L463.73,233.51 L463.76,233.69 L463.79,233.87 L463.82,234.04 L463.85,234.22 L463.87,234.40 L463.90,234.57 L463.93,234.75 L463.95,234.93 L463.98,235.10 L464.00,235.28 L464.02,235.46 L464.05,235.63 L464.07,235.81 L464.09,235.99 L464.11,236.16 L464.13,236.34 L464.15,236.52 L464.17,236.70 L464.19,236.87 L464.21,237.05 L464.23,237.23 L464.25,237.40 L464.27,237.58 L464.28,237.76 L464.30,237.93 L464.32,238.11 L464.34,238.29 L464.35,238.46 L464.37,238.64 L464.38,238.82 L464.40,238.99 L464.41,239.17 L464.43,239.35 L464.44,239.53 L464.46,239.70 L464.47,239.88 L464.49,240.06 L464.50,240.23 L464.51,240.41 L464.53,240.59 L464.54,240.76 L464.55,240.94 L464.56,241.12 L464.58,241.29 L464.59,241.47 L464.60,241.65 L464.61,241.83 L464.62,242.00 L464.63,242.18 L464.65,242.36 L464.66,242.53 L464.67,242.71 L464.68,242.89 L464.69,243.06 L464.70,243.24 L464.71,243.42 L464.72,243.59 L464.73,243.77 L464.73,243.95 L464.74,244.12 L464.75,244.30 L464.76,244.48 L464.77,244.66 L464.78,244.83 L464.78,245.01 L464.79,245.19 L464.80,245.36 L464.81,245.54 L464.81,245.72 L464.82,245.89 L464.82,246.07 L464.83,246.25 L464.84,246.42 L464.84,246.60 L464.85,246.78 L464.85,246.95 L464.85,247.13 L464.86,247.31 L464.86,247.49 L464.87,247.66 L464.87,247.84 L464.87,248.02 L464.87,248.19 L464.87,248.37 L464.88,248.55 L464.88,248.72 L464.88,248.90 L464.88,249.08 L464.88,249.25 L464.88,249.43 L464.87,249.61 L464.87,249.79 L464.87,249.96 L464.87,250.14 L464.86,250.32 L464.86,250.49 L464.85,250.67 L464.85,250.85 L464.84,251.02 L464.84,251.20 L464.83,251.38 L464.82,251.55 L464.81,251.73 L464.81,251.91 L464.80,252.08 L464.79,252.26 L464.77,252.44 L464.76,252.62 L464.75,252.79 L464.74,252.97 L464.72,253.15 L464.71,253.32 L464.69,253.50 L464.67,253.68 L464.66,253.85 L464.64,254.03 L464.62,254.21 L464.60,254.38 L464.58,254.56 L464.56,254.74 L464.53,254.91 L464.51,255.09 L464.49,255.27 L464.46,255.45 L464.43,255.62 L464.41,255.80 L464.38,255.98 L464.35,256.15 L464.32,256.33 L464.28,256.51 L464.25,256.68 L464.22,256.86 L464.18,257.04 L464.15,257.21 L464.11,257.39 L464.07,257.57 L464.03,257.74 L463.99,257.92 L463.95,258.10 L463.91,258.28 L463.86,258.45 L463.82,258.63 L463.77,258.81 L463.72,258.98 L463.67,259.16 L463.62,259.34 L463.57,259.51 L463.52,259.69 L463.46,259.87 L463.41,260.04 L463.35,260.22 L463.29,260.40 L463.23,260.58 L463.17,260.75 L463.11,260.93 L463.05,261.11 L462.98,261.28 L462.92,261.46 L462.85,261.64 L462.78,261.81 L462.71,261.99 L462.64,262.17 L462.57,262.34 L462.49,262.52 L462.42,262.70 L462.34,262.87 L462.26,263.05 L462.18,263.23 L462.10,263.41 L462.02,263.58 L461.94,263.76 L461.85,263.94 L461.77,264.11 L461.68,264.29 L461.59,264.47 L461.50,264.64 L461.41,264.82 L461.32,265.00 L461.22,265.17 L461.12,265.35 L461.03,265.53 L460.93,265.70 L460.83,265.88 L460.73,266.06 L460.63,266.24 L460.52,266.41 L460.42,266.59 L460.31,266.77 L460.20,266.94 L460.10,267.12 L459.99,267.30 L459.87,267.47 L459.76,267.65 L459.65,267.83 L459.53,268.00 L459.42,268.18 L459.30,268.36 L459.18,268.54 L459.06,268.71 L458.94,268.89 L458.82,269.07 L458.69,269.24 L458.57,269.42 L458.44,269.60 L458.32,269.77 L458.19,269.95 L458.06,270.13 L457.93,270.30 L457.80,270.48 L457.66,270.66 L457.53,270.83 L457.40,271.01 L457.26,271.19 L457.13,271.37 L456.99,271.54 L456.85,271.72 Z" fill="none" stroke="#333333" stroke-width="1.1" stroke-linejoin="round"/>
<path d="M479.82,272.95 L479.64,272.71 L479.47,272.48 L479.30,272.24 L479.13,272.01 L478.96,271.77 L478.80,271.54 L478.63,271.30 L478.47,271.07 L478.31,270.84 L478.16,270.60 L478.00,270.37 L477.85,270.13 L477.70,269.90 L477.55,269.66 L477.41,269.43 L477.27,269.19 L477.13,268.96 L476.99,268.72 L476.85,268.49 L476.72,268.26 L476.59,268.02 L476.46,267.79 L476.34,267.55 L476.22,267.32 L476.09,267.08 L475.98,266.85 L475.86,266.61 L475.75,266.38 L475.64,266.15 L475.53,265.91 L475.43,265.68 L475.32,265.44 L475.22,265.21 L475.13,264.97 L475.03,264.74 L474.94,264.50 L474.85,264.27 L474.76,264.03 L474.67,263.80 L474.59,263.57 L474.51,263.33 L474.43,263.10 L474.36,262.86 L474.28,262.63 L474.21,262.39 L474.14,262.16 L474.08,261.92 L474.01,261.69 L473.95,261.45 L473.89,261.22 L473.83,260.99 L473.78,260.75 L473.72,260.52 L473.67,260.28 L473.62,260.05 L473.58,259.81 L473.53,259.58 L473.49,259.34 L473.44,259.11 L473.40,258.88 L473.37,258.64 L473.33,258.41 L473.29,258.17 L473.26,257.94 L473.23,257.70 L473.20,257.47 L473.17,257.23 L473.14,257.00 L473.12,256.76 L473.09,256.53 L473.07,256.30 L473.05,256.06 L473.03,255.83 L473.01,255.59 L472.99,255.36 L472.97,255.12 L472.96,254.89 L472.94,254.65 L472.93,254.42 L472.91,254.18 L472.90,253.95 L472.89,253.72 L472.88,253.48 L472.87,253.25 L472.86,253.01 L472.85,252.78 L472.84,252.54 L472.83,252.31 L472.83,252.07 L472.82,251.84 L472.81,251.61 L472.81,251.37 L472.80,251.14 L472.80,250.90 L472.79,250.67 L472.79,250.43 L472.78,250.20 L472.78,249.96 L472.78,249.73 L472.77,249.49 L472.77,249.26 L472.76,249.03 L472.76,248.79 L472.76,248.56 L472.75,248.32 L472.75,248.09 L472.74,247.85 L472.74,247.62 L472.74,247.38 L472.73,247.15 L472.73,246.91 L472.72,246.68 L472.72,246.45 L472.71,246.21 L472.71,245.98 L472.70,245.74 L472.70,245.51 L472.69,245.27 L472.69,245.04 L472.68,244.80 L472.68,244.57 L472.67,244.34 L472.66,244.10 L472.66,243.87 L472.65,243.63 L472.64,243.40 L472.64,243.16 L472.63,242.93 L472.62,242.69 L472.62,242.46 L472.61,242.22 L472.60,241.99 L472.59,241.76 L472.59,241.52 L472.58,241.29 L472.57,241.05 L472.57,240.82 L472.56,240.58 L472.55,240.35 L472.55,240.11 L472.54,239.88 L472.54,239.64 L472.53,239.41 L472.53,239.18 L472.52,238.94 L472.52,238.71 L472.51,238.47 L472.51,238.24 L472.51,238.00 L472.51,237.77 L472.51,237.53 L472.51,237.30 L472.51,237.07 L472.51,236.83 L472.51,236.60 L472.52,236.36 L472.52,236.13 L472.53,235.89 L472.53,235.66 L472.54,235.42 L472.55,235.19 L472.56,234.95 L472.58,234.72 L472.59,234.49 L472.60,234.25 L472.62,234.02 L472.64,233.78 L472.66,233.55 L472.68,233.31 L472.71,233.08 L472.73,232.84 L472.76,232.61 L472.79,232.37 L472.82,232.14 L472.86,231.91 L472.89,231.67 L472.93,231.44 L472.97,231.20 L473.01,230.97 L473.06,230.73 L473.11,230.50 L473.16,230.26 L473.21,230.03 L473.26,229.80 L473.32,229.56 L473.38,229.33 L473.45,229.09 L473.51,228.86 L473.58,228.62 L473.65,228.39 L473.73,228.15 L473.80,227.92 L473.88,227.68 L473.97,227.45 L474.05,227.22 L474.14,226.98 L474.24,226.75 L474.33,226.51 L474.43,226.28 L474.53,226.04 L474.63,225.81 L474.74,225.57 L474.85,225.34 L474.97,225.11 L475.08,224.87 L475.20,224.64 L475.33,224.40 L475.45,224.17 L475.58,223.93 L475.72,223.70 L475.85,223.46 L475.99,223.23 L476.13,222.99 L476.28,222.76 L476.43,222.53 L476.58,222.29 L476.73,222.06 L476.89,221.82 L477.05,221.59 L477.21,221.35 L477.38,221.12 L477.55,220.88 L477.72,220.65 L477.90,220.41 L478.07,220.18 L478.25,219.95 L478.44,219.71 L478.62,219.48 L478.81,219.24 L479.00,219.01 L479.19,218.77 L479.39,218.54 L479.58,218.30 L479.78,218.07 L479.99,217.84 L480.19,217.60 L480.40,217.37 L480.60,217.13 L480.81,216.90 L481.03,216.66 L481.24,216.43 L481.46,216.19 L481.67,215.96 L481.89,215.72 L482.11,215.49 L482.33,215.26 L482.56,215.02 L482.78,214.79 L483.01,214.55 L483.23,214.32 L483.46,214.08 L483.69,213.85 L483.92,213.61 L484.15,213.38 L484.38,213.14 L484.61,212.91 L484.85,212.68 L485.08,212.44 L485.31,212.21 L485.54,211.97 L485.78,211.74 L486.01,211.50 L486.25,211.27 L486.48,211.03 L486.71,210.80 L486.95,210.57 L487.18,210.33 L487.41,210.10 L487.65,209.86 L487.88,209.63 L488.11,209.39 L488.34,209.16 L488.57,208.92 L488.80,208.69 L489.03,208.45 L489.26,208.22 L489.48,207.99 L489.71,207.75 L489.93,207.52 L490.15,207.28 L490.38,207.05 L490.60,206.81 L490.81,206.58 L491.03,206.34 L491.25,206.11 L491.46,205.87 L491.67,205.64 L491.89,205.41 L492.09,205.17 L492.30,204.94 L492.51,204.70 L492.71,204.47 L492.91,204.23 L493.11,204.00 L493.31,203.76 L493.50,203.53 L493.70,203.30 L493.89,203.06 L494.08,202.83 L494.26,202.59 L494.45,202.36 L494.63,202.12 L494.81,201.89 L494.98,201.65 L495.16,201.42 L495.33,201.18 L495.50,200.95 L495.66,200.72 L495.83,200.48 L495.99,200.25 L496.15,200.01 L496.31,199.78 L496.46,199.54 L496.61,199.31 L496.76,199.07 L496.91,198.84 L497.05,198.60 L497.19,198.37 L497.33,198.14 L497.46,197.90 L497.59,197.67 L497.72,197.43 L497.85,197.20 L497.97,196.96 L498.09,196.73 L498.21,196.49 L498.33,196.26 L498.44,196.03 L498.55,195.79 L498.66,195.56 L498.76,195.32 L498.86,195.09 L498.96,194.85 L499.06,194.62 L499.15,194.38 L499.24,194.15 L499.33,193.91 L499.42,193.68 L499.50,193.45 L499.58,193.21 L499.66,192.98 L499.73,192.74 L499.80,192.51 L499.87,192.27 L499.94,192.04 L500.00,191.80 L500.06,191.57 L500.12,191.33 L500.18,191.10 L500.23,190.87 L500.28,190.63 L500.33,190.40 L500.38,190.16 L500.42,189.93 L500.46,189.69 L500.50,189.46 L500.54,189.22 L500.57,188.99 L500.60,188.76 L500.63,188.52 L500.65,188.29 L500.68,188.05 L500.70,187.82 L500.72,187.58 L500.73,187.35 L500.75,187.11 L500.76,186.88 L500.77,186.64 L500.78,186.41 L500.78,186.18 L500.78,185.94 L500.78,185.71 L500.78,185.47 L500.78,185.24 L500.77,185.00 L500.76,184.77 L500.75,184.53 L500.74,184.30 L500.72,184.06 L500.71,183.83 L500.69,183.60 L500.67,183.36 L500.64,183.13 L500.62,182.89 L500.59,182.66 L500.56,182.42 L500.53,182.19 L500.50,181.95 L500.46,181.72 L500.42,181.49 L500.38,181.25 L500.34,181.02 L500.30,180.78 L500.26,180.55 L500.21,180.31 L500.16,180.08 L500.11,179.84 L500.06,179.61 L500.00,179.37 L499.95,179.14 L499.89,178.91 L499.83,178.67 L499.77,178.44 L499.71,178.20 L499.65,177.97 L499.58,177.73 L499.51,177.50 L499.44,177.26 L499.37,177.03 L499.30,176.79 L499.23,176.56 L499.16,176.33 L499.08,176.09 L499.00,175.86 L498.92,175.62 L498.85,175.39 L498.76,175.15 L498.68,174.92 L498.60,174.68 L498.51,174.45 L498.43,174.22 L498.34,173.98 L498.25,173.75 L498.16,173.51 L498.07,173.28 L497.98,173.04 L497.89,172.81 L497.80,172.57 L497.71,172.34 L497.61,172.10 L497.52,171.87 L497.42,171.64 L497.32,171.40 L497.23,171.17 L497.13,170.93 L497.03,170.70 L496.93,170.46 L496.83,170.23 L496.73,169.99 L496.63,169.76 L496.53,169.53 L496.43,169.29 L496.33,169.06 L496.23,168.82 L496.13,168.59 L496.03,168.35 L495.93,168.12 L495.83,167.88 L495.73,167.65 L495.63,167.41 L495.53,167.18 L495.43,166.95 L495.33,166.71 L495.23,166.48 L495.13,166.24 L495.03,166.01 L494.94,165.77 L494.84,165.54 L494.74,165.30 L494.65,165.07 L494.55,164.83 L494.46,164.60 L494.36,164.37 L494.27,164.13 L494.18,163.90 L494.09,163.66 L494.00,163.43 L493.91,163.19 L493.82,162.96 L493.74,162.72 L493.65,162.49 L493.57,162.26 L493.49,162.02 L493.41,161.79 L493.33,161.55 L493.25,161.32 L493.18,161.08 L493.10,160.85 L493.03,160.61 L492.96,160.38 L492.89,160.14 L492.82,159.91 L492.76,159.68 L492.69,159.44 L492.63,159.21 L492.57,158.97 L492.52,158.74 L492.46,158.50 L492.41,158.27 L492.36,158.03 L492.31,157.80 L492.26,157.56 L492.22,157.33 L492.17,157.10 L492.13,156.86 L492.10,156.63 L492.06,156.39 L492.03,156.16 L492.00,155.92 L491.97,155.69 L491.94,155.45 L491.92,155.22 L491.90,154.99 L491.88,154.75 L491.86,154.52 L491.85,154.28 L491.84,154.05 L491.83,153.81 L491.82,153.58 L491.82,153.34 L491.82,153.11 L514.78,153.11 L514.78,153.34 L514.78,153.58 L514.77,153.81 L514.76,154.05 L514.75,154.28 L514.74,154.52 L514.72,154.75 L514.70,154.99 L514.68,155.22 L514.66,155.45 L514.63,155.69 L514.60,155.92 L514.57,156.16 L514.54,156.39 L514.50,156.63 L514.47,156.86 L514.43,157.10 L514.38,157.33 L514.34,157.56 L514.29,157.80 L514.24,158.03 L514.19,158.27 L514.14,158.50 L514.08,158.74 L514.03,158.97 L513.97,159.21 L513.91,159.44 L513.84,159.68 L513.78,159.91 L513.71,160.14 L513.64,160.38 L513.57,160.61 L513.50,160.85 L513.42,161.08 L513.35,161.32 L513.27,161.55 L513.19,161.79 L513.11,162.02 L513.03,162.26 L512.95,162.49 L512.86,162.72 L512.78,162.96 L512.69,163.19 L512.60,163.43 L512.51,163.66 L512.42,163.90 L512.33,164.13 L512.24,164.37 L512.14,164.60 L512.05,164.83 L511.95,165.07 L511.86,165.30 L511.76,165.54 L511.66,165.77 L511.57,166.01 L511.47,166.24 L511.37,166.48 L511.27,166.71 L511.17,166.95 L511.07,167.18 L510.97,167.41 L510.87,167.65 L510.77,167.88 L510.67,168.12 L510.57,168.35 L510.47,168.59 L510.37,168.82 L510.27,169.06 L510.17,169.29 L510.07,169.53 L509.97,169.76 L509.87,169.99 L509.77,170.23 L509.67,170.46 L509.57,170.70 L509.47,170.93 L509.37,171.17 L509.28,171.40 L509.18,171.64 L509.08,171.87 L508.99,172.10 L508.89,172.34 L508.80,172.57 L508.71,172.81 L508.62,173.04 L508.53,173.28 L508.44,173.51 L508.35,173.75 L508.26,173.98 L508.17,174.22 L508.09,174.45 L508.00,174.68 L507.92,174.92 L507.84,175.15 L507.75,175.39 L507.68,175.62 L507.60,175.86 L507.52,176.09 L507.44,176.33 L507.37,176.56 L507.30,176.79 L507.23,177.03 L507.16,177.26 L507.09,177.50 L507.02,177.73 L506.95,177.97 L506.89,178.20 L506.83,178.44 L506.77,178.67 L506.71,178.91 L506.65,179.14 L506.60,179.37 L506.54,179.61 L506.49,179.84 L506.44,180.08 L506.39,180.31 L506.34,180.55 L506.30,180.78 L506.26,181.02 L506.22,181.25 L506.18,181.49 L506.14,181.72 L506.10,181.95 L506.07,182.19 L506.04,182.42 L506.01,182.66 L505.98,182.89 L505.96,183.13 L505.93,183.36 L505.91,183.60 L505.89,183.83 L505.88,184.06 L505.86,184.30 L505.85,184.53 L505.84,184.77 L505.83,185.00 L505.82,185.24 L505.82,185.47 L505.82,185.71 L505.82,185.94 L505.82,186.18 L505.82,186.41 L505.83,186.64 L505.84,186.88 L505.85,187.11 L505.87,187.35 L505.88,187.58 L505.90,187.82 L505.92,188.05 L505.95,188.29 L505.97,188.52 L506.00,188.76 L506.03,188.99 L506.06,189.22 L506.10,189.46 L506.14,189.69 L506.18,189.93 L506.22,190.16 L506.27,190.40 L506.32,190.63 L506.37,190.87 L506.42,191.10 L506.48,191.33 L506.54,191.57 L506.60,191.80 L506.66,192.04 L506.73,192.27 L506.80,192.51 L506.87,192.74 L506.94,192.98 L507.02,193.21 L507.10,193.45 L507.18,193.68 L507.27,193.91 L507.36,194.15 L507.45,194.38 L507.54,194.62 L507.64,194.85 L507.74,195.09 L507.84,195.32 L507.94,195.56 L508.05,195.79 L508.16,196.03 L508.27,196.26 L508.39,196.49 L508.51,196.73 L508.63,196.96 L508.75,197.20 L508.88,197.43 L509.01,197.67 L509.14,197.90 L509.27,198.14 L509.41,198.37 L509.55,198.60 L509.69,198.84 L509.84,199.07 L509.99,199.31 L510.14,199.54 L510.29,199.78 L510.45,200.01 L510.61,200.25 L510.77,200.48 L510.94,200.72 L511.10,200.95 L511.27,201.18 L511.44,201.42 L511.62,201.65 L511.79,201.89 L511.97,202.12 L512.15,202.36 L512.34,202.59 L512.52,202.83 L512.71,203.06 L512.90,203.30 L513.10,203.53 L513.29,203.76 L513.49,204.00 L513.69,204.23 L513.89,204.47 L514.09,204.70 L514.30,204.94 L514.51,205.17 L514.71,205.41 L514.93,205.64 L515.14,205.87 L515.35,206.11 L515.57,206.34 L515.79,206.58 L516.00,206.81 L516.22,207.05 L516.45,207.28 L516.67,207.52 L516.89,207.75 L517.12,207.99 L517.34,208.22 L517.57,208.45 L517.80,208.69 L518.03,208.92 L518.26,209.16 L518.49,209.39 L518.72,209.63 L518.95,209.86 L519.19,210.10 L519.42,210.33 L519.65,210.57 L519.89,210.80 L520.12,211.03 L520.35,211.27 L520.59,211.50 L520.82,211.74 L521.06,211.97 L521.29,212.21 L521.52,212.44 L521.75,212.68 L521.99,212.91 L522.22,213.14 L522.45,213.38 L522.68,213.61 L522.91,213.85 L523.14,214.08 L523.37,214.32 L523.59,214.55 L523.82,214.79 L524.04,215.02 L524.27,215.26 L524.49,215.49 L524.71,215.72 L524.93,215.96 L525.14,216.19 L525.36,216.43 L525.57,216.66 L525.79,216.90 L526.00,217.13 L526.20,217.37 L526.41,217.60 L526.61,217.84 L526.82,218.07 L527.02,218.30 L527.21,218.54 L527.41,218.77 L527.60,219.01 L527.79,219.24 L527.98,219.48 L528.16,219.71 L528.35,219.95 L528.53,220.18 L528.70,220.41 L528.88,220.65 L529.05,220.88 L529.22,221.12 L529.39,221.35 L529.55,221.59 L529.71,221.82 L529.87,222.06 L530.02,222.29 L530.17,222.53 L530.32,222.76 L530.47,222.99 L530.61,223.23 L530.75,223.46 L530.88,223.70 L531.02,223.93 L531.15,224.17 L531.27,224.40 L531.40,224.64 L531.52,224.87 L531.63,225.11 L531.75,225.34 L531.86,225.57 L531.97,225.81 L532.07,226.04 L532.17,226.28 L532.27,226.51 L532.36,226.75 L532.46,226.98 L532.55,227.22 L532.63,227.45 L532.72,227.68 L532.80,227.92 L532.87,228.15 L532.95,228.39 L533.02,228.62 L533.09,228.86 L533.15,229.09 L533.22,229.33 L533.28,229.56 L533.34,229.80 L533.39,230.03 L533.44,230.26 L533.49,230.50 L533.54,230.73 L533.59,230.97 L533.63,231.20 L533.67,231.44 L533.71,231.67 L533.74,231.91 L533.78,232.14 L533.81,232.37 L533.84,232.61 L533.87,232.84 L533.89,233.08 L533.92,233.31 L533.94,233.55 L533.96,233.78 L533.98,234.02 L534.00,234.25 L534.01,234.49 L534.02,234.72 L534.04,234.95 L534.05,235.19 L534.06,235.42 L534.07,235.66 L534.07,235.89 L534.08,236.13 L534.08,236.36 L534.09,236.60 L534.09,236.83 L534.09,237.07 L534.09,237.30 L534.09,237.53 L534.09,237.77 L534.09,238.00 L534.09,238.24 L534.09,238.47 L534.08,238.71 L534.08,238.94 L534.07,239.18 L534.07,239.41 L534.06,239.64 L534.06,239.88 L534.05,240.11 L534.05,240.35 L534.04,240.58 L534.03,240.82 L534.03,241.05 L534.02,241.29 L534.01,241.52 L534.01,241.76 L534.00,241.99 L533.99,242.22 L533.98,242.46 L533.98,242.69 L533.97,242.93 L533.96,243.16 L533.96,243.40 L533.95,243.63 L533.94,243.87 L533.94,244.10 L533.93,244.34 L533.92,244.57 L533.92,244.80 L533.91,245.04 L533.91,245.27 L533.90,245.51 L533.90,245.74 L533.89,245.98 L533.89,246.21 L533.88,246.45 L533.88,246.68 L533.87,246.91 L533.87,247.15 L533.86,247.38 L533.86,247.62 L533.86,247.85 L533.85,248.09 L533.85,248.32 L533.84,248.56 L533.84,248.79 L533.84,249.03 L533.83,249.26 L533.83,249.49 L533.82,249.73 L533.82,249.96 L533.82,250.20 L533.81,250.43 L533.81,250.67 L533.80,250.90 L533.80,251.14 L533.79,251.37 L533.79,251.61 L533.78,251.84 L533.77,252.07 L533.77,252.31 L533.76,252.54 L533.75,252.78 L533.74,253.01 L533.73,253.25 L533.72,253.48 L533.71,253.72 L533.70,253.95 L533.69,254.18 L533.67,254.42 L533.66,254.65 L533.64,254.89 L533.63,255.12 L533.61,255.36 L533.59,255.59 L533.57,255.83 L533.55,256.06 L533.53,256.30 L533.51,256.53 L533.48,256.76 L533.46,257.00 L533.43,257.23 L533.40,257.47 L533.37,257.70 L533.34,257.94 L533.31,258.17 L533.27,258.41 L533.23,258.64 L533.20,258.88 L533.16,259.11 L533.11,259.34 L533.07,259.58 L533.02,259.81 L532.98,260.05 L532.93,260.28 L532.88,260.52 L532.82,260.75 L532.77,260.99 L532.71,261.22 L532.65,261.45 L532.59,261.69 L532.52,261.92 L532.46,262.16 L532.39,262.39 L532.32,262.63 L532.24,262.86 L532.17,263.10 L532.09,263.33 L532.01,263.57 L531.93,263.80 L531.84,264.03 L531.75,264.27 L531.66,264.50 L531.57,264.74 L531.47,264.97 L531.38,265.21 L531.28,265.44 L531.17,265.68 L531.07,265.91 L530.96,266.15 L530.85,266.38 L530.74,266.61 L530.62,266.85 L530.51,267.08 L530.38,267.32 L530.26,267.55 L530.14,267.79 L530.01,268.02 L529.88,268.26 L529.75,268.49 L529.61,268.72 L529.47,268.96 L529.33,269.19 L529.19,269.43 L529.05,269.66 L528.90,269.90 L528.75,270.13 L528.60,270.37 L528.44,270.60 L528.29,270.84 L528.13,271.07 L527.97,271.30 L527.80,271.54 L527.64,271.77 L527.47,272.01 L527.30,272.24 L527.13,272.48 L526.96,272.71 L526.78,272.95 Z" fill="none" stroke="#333333" stroke-width="1.1" stroke-linejoin="round"/>
<circle cx="348.83" cy="270.08" r="2.5" fill="#F0EA80"/>
<circle cx="354.66" cy="14.05" r="2.5" fill="#1CEDB0"/>
<circle cx="360.49" cy="118.96" r="2.5" fill="#64AFE2"/>
<circle cx="366.31" cy="203.58" r="2.5" fill="#1232F2"/>
<circle cx="372.14" cy="223.87" r="2.5" fill="#F8008E"/>
<circle cx="377.97" cy="241.62" r="2.5" fill="#6A5CC2"/>
<circle cx="418.83" cy="271.72" r="2.5" fill="#F0EA80"/>
<circle cx="424.66" cy="181.33" r="2.5" fill="#1CEDB0"/>
<circle cx="430.49" cy="219.78" r="2.5" fill="#64AFE2"/>
<circle cx="436.31" cy="259.45" r="2.5" fill="#1232F2"/>
<circle cx="442.14" cy="227.96" r="2.5" fill="#F8008E"/>
<circle cx="447.97" cy="246.77" r="2.5" fill="#6A5CC2"/>
<circle cx="488.73" cy="272.95" r="2.5" fill="#F0EA80"/>
<circle cx="494.56" cy="153.11" r="2.5" fill="#1CEDB0"/>
<circle cx="500.39" cy="223.46" r="2.5" fill="#64AFE2"/>
<circle cx="506.21" cy="261.49" r="2.5" fill="#1232F2"/>
<circle cx="512.04" cy="225.91" r="2.5" fill="#F8008E"/>
<circle cx="517.87" cy="246.77" r="2.5" fill="#6A5CC2"/>
<text x="317.5" y="280.50" font-size="15.1" text-anchor="end" font-weight="normal" font-style="normal" fill="#4D4D4D" stroke="#4D4D4D" stroke-width="0.3" >0</text>
<text x="317.5" y="198.70" font-size="15.1" text-anchor="end" font-weight="normal" font-style="normal" fill="#4D4D4D" stroke="#4D4D4D" stroke-width="0.3" >2</text>
<text x="317.5" y="116.90" font-size="15.1" text-anchor="end" font-weight="normal" font-style="normal" fill="#4D4D4D" stroke="#4D4D4D" stroke-width="0.3" >4</text>
<text x="317.5" y="35.10" font-size="15.1" text-anchor="end" font-weight="normal" font-style="normal" fill="#4D4D4D" stroke="#4D4D4D" stroke-width="0.3" >6</text>
<text x="363.4" y="300.7" font-size="15.1" text-anchor="middle" fill="#4D4D4D" stroke="#4D4D4D" stroke-width="0.3" xml:space="preserve">model </text>
<text x="363.4" y="317.3" font-size="15.1" text-anchor="middle" fill="#4D4D4D" stroke="#4D4D4D" stroke-width="0.3" xml:space="preserve"> v420</text>
<text x="433.4" y="300.7" font-size="15.1" text-anchor="middle" fill="#4D4D4D" stroke="#4D4D4D" stroke-width="0.3" xml:space="preserve">model </text>
<text x="433.4" y="317.3" font-size="15.1" text-anchor="middle" fill="#4D4D4D" stroke="#4D4D4D" stroke-width="0.3" xml:space="preserve"> v430</text>
<text x="503.3" y="300.7" font-size="15.1" text-anchor="middle" fill="#4D4D4D" stroke="#4D4D4D" stroke-width="0.3" xml:space="preserve">model </text>
<text x="503.3" y="317.3" font-size="15.1" text-anchor="middle" fill="#4D4D4D" stroke="#4D4D4D" stroke-width="0.3" xml:space="preserve"> v500</text>
<text x="433.40" y="335.3" font-size="16.7" text-anchor="middle" font-weight="normal" font-style="normal" fill="#000" stroke="#000" stroke-width="0.3" >Model version</text>
<text transform="translate(299.4,143.6) rotate(-90)" font-size="16.7" text-anchor="middle" stroke="#000" stroke-width="0.3">E<tspan font-size="11.8" dy="3.8">combined</tspan></text>
<text x="288.8" y="9.5" font-size="13.2" text-anchor="start" font-weight="bold" font-style="normal" fill="#000" stroke="#000" stroke-width="0.3" >b<tspan dx="-0.2" dy="-0.9">)</tspan></text>
<text x="560.5" y="98.2" font-size="16.7" text-anchor="start" font-weight="normal" font-style="normal" fill="#000" stroke="#000" stroke-width="0.3" >Strain</text>
<circle cx="568.1" cy="113.50" r="2.5" fill="#F0EA80"/>
<text x="585" y="118.60" font-size="14.9" text-anchor="start" font-weight="normal" font-style="italic" fill="#000" stroke="#000" stroke-width="0.3" >Ba. anthracis</text>
<circle cx="568.1" cy="129.50" r="2.5" fill="#1CEDB0"/>
<text x="585" y="134.60" font-size="14.9" text-anchor="start" font-weight="normal" font-style="italic" fill="#000" stroke="#000" stroke-width="0.3" >Br. abortus</text>
<circle cx="568.1" cy="145.50" r="2.5" fill="#64AFE2"/>
<text x="585" y="150.60" font-size="14.9" text-anchor="start" font-weight="normal" font-style="italic" fill="#000" stroke="#000" stroke-width="0.3" >Br. melitensis</text>
<circle cx="568.1" cy="161.50" r="2.5" fill="#1232F2"/>
<text x="585" y="166.60" font-size="14.9" text-anchor="start" font-weight="normal" font-style="italic" fill="#000" stroke="#000" stroke-width="0.3" >Br. suis</text>
<circle cx="568.1" cy="177.50" r="2.5" fill="#F8008E"/>
<text x="585" y="182.60" font-size="14.9" text-anchor="start" font-weight="normal" font-style="italic" fill="#000" stroke="#000" stroke-width="0.3" >F. tularensis</text>
<circle cx="568.1" cy="193.50" r="2.5" fill="#6A5CC2"/>
<text x="585" y="198.60" font-size="14.9" text-anchor="start" font-weight="normal" font-style="italic" fill="#000" stroke="#000" stroke-width="0.3" >T. equigenitalis</text>
</svg>
</body></html>
